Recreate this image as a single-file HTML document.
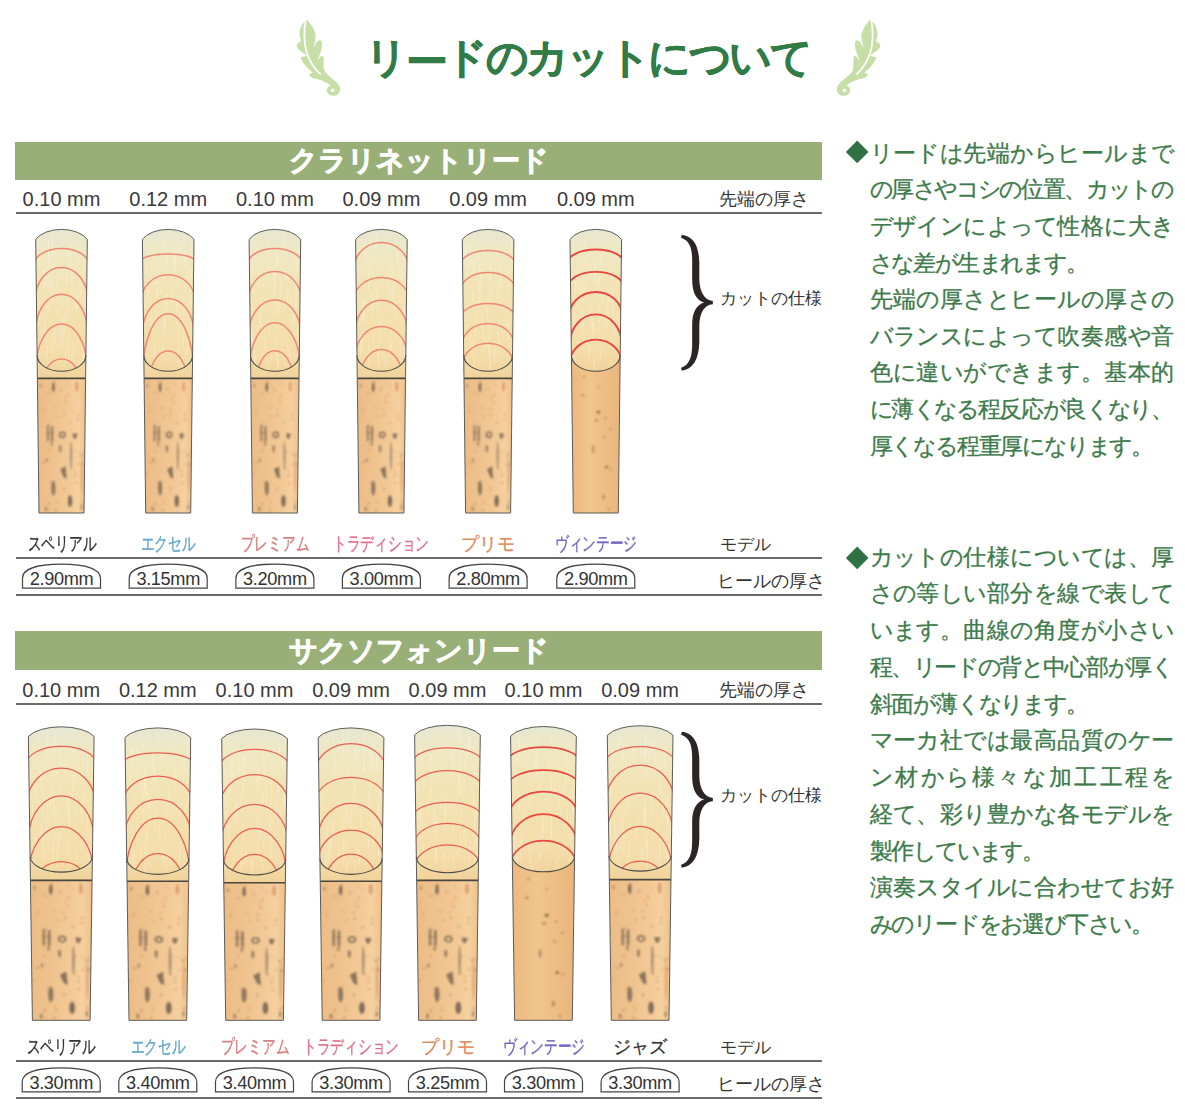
<!DOCTYPE html>
<html><head><meta charset="utf-8"><style>
html,body{margin:0;padding:0;background:#fff;width:1185px;height:1110px;overflow:hidden;position:relative;font-family:'Liberation Sans',sans-serif;}
.a{position:absolute;white-space:nowrap;}
</style></head><body>

<svg class="a" style="left:290px;top:15px" width="55" height="86" viewBox="0 0 763 1193"><g transform=""><path d="M240,68 C290,130 355,210 355,300 C355,360 325,420 330,462 C350,400 380,350 420,350 C455,360 450,440 430,500 C415,545 390,600 378,640 C400,600 430,560 455,565 C475,600 462,690 470,750 C490,830 620,900 670,960 C705,1000 705,1065 665,1100 C625,1135 545,1125 518,1080 C495,1035 525,985 565,982 C520,935 420,895 330,878 C290,870 255,840 275,815 C290,800 310,800 320,800 C260,760 200,700 160,620 C150,595 150,580 160,578 C200,590 225,560 235,560 C180,520 110,490 95,440 C90,400 110,380 140,378 C150,375 145,345 150,345 C120,280 130,200 170,130 C195,90 220,70 240,68 Z" fill="#c6dfa7"/><path d="M215,88 C190,200 195,380 225,500 C260,620 330,740 420,820" fill="none" stroke="#fff" stroke-width="24" stroke-linecap="round"/><circle cx="592" cy="1045" r="26" fill="#fff"/></g></svg>
<svg class="a" style="left:832px;top:15px" width="55" height="86" viewBox="0 0 763 1193"><g transform="translate(763,0) scale(-1,1)"><path d="M240,68 C290,130 355,210 355,300 C355,360 325,420 330,462 C350,400 380,350 420,350 C455,360 450,440 430,500 C415,545 390,600 378,640 C400,600 430,560 455,565 C475,600 462,690 470,750 C490,830 620,900 670,960 C705,1000 705,1065 665,1100 C625,1135 545,1125 518,1080 C495,1035 525,985 565,982 C520,935 420,895 330,878 C290,870 255,840 275,815 C290,800 310,800 320,800 C260,760 200,700 160,620 C150,595 150,580 160,578 C200,590 225,560 235,560 C180,520 110,490 95,440 C90,400 110,380 140,378 C150,375 145,345 150,345 C120,280 130,200 170,130 C195,90 220,70 240,68 Z" fill="#c6dfa7"/><path d="M215,88 C190,200 195,380 225,500 C260,620 330,740 420,820" fill="none" stroke="#fff" stroke-width="24" stroke-linecap="round"/><circle cx="592" cy="1045" r="26" fill="#fff"/></g></svg>
<div class="a" id="title" style="left:365px;top:37px;font-size:42px;line-height:42px;font-weight:bold;color:#317b47;letter-spacing:-2.4px;-webkit-text-stroke:0.5px #317b47">リ<span style="position:relative;top:3.5px">ー</span>ドのカットについて</div>
<div class="a" style="left:15px;top:141.5px;width:807px;height:38.7px;background:#98b078"></div>
<div class="a" style="left:15px;top:146.0px;width:807px;text-align:center;font-size:28px;line-height:30px;font-weight:bold;color:#fff;-webkit-text-stroke:0.9px #fff">クラリネットリード</div>
<div class="a" style="left:15px;top:631px;width:807px;height:38.7px;background:#98b078"></div>
<div class="a" style="left:15px;top:635.5px;width:807px;text-align:center;font-size:28px;line-height:30px;font-weight:bold;color:#fff;-webkit-text-stroke:0.9px #fff">サクソフォンリード</div>
<svg class="a" style="left:0;top:0" width="1185" height="1110" viewBox="0 0 1185 1110">
<defs>
<linearGradient id="vg" x1="0" y1="0" x2="0" y2="1">
 <stop offset="0" stop-color="#e6e6d2"/><stop offset="0.14" stop-color="#efe8c4"/>
 <stop offset="0.4" stop-color="#f3e3b4"/><stop offset="0.85" stop-color="#f4ddaa"/><stop offset="1" stop-color="#f1d29a"/>
</linearGradient>
<linearGradient id="hg" x1="0" y1="0" x2="1" y2="0">
 <stop offset="0" stop-color="#ecbc86"/><stop offset="0.6" stop-color="#f2c894"/><stop offset="0.85" stop-color="#f5d09e"/><stop offset="1" stop-color="#eec089"/>
</linearGradient>
<linearGradient id="hgv" x1="0" y1="0" x2="1" y2="0">
 <stop offset="0" stop-color="#ebb97f"/><stop offset="0.4" stop-color="#f1c58e"/><stop offset="1" stop-color="#e9b67c"/>
</linearGradient>
<filter id="bl" x="-20%" y="-20%" width="140%" height="140%"><feGaussianBlur stdDeviation="1.0"/></filter>
<g id="spots">
 <g fill="#6a5a4c">
 <ellipse cx="15.9" cy="9" rx="1.3" ry="4.5" opacity="0.83"/>
 <ellipse cx="3.3" cy="7.3" rx="1" ry="1.6" opacity="0.50"/>
 <rect x="9.5" y="47" width="2" height="16" opacity="0.66"/><rect x="13.6" y="48" width="2" height="15" opacity="0.72"/>
 <rect x="9" y="54" width="7" height="1.2" opacity="0.38"/>
 <circle cx="24.8" cy="56.6" r="2.6" fill="none" stroke="#6a5a4c" stroke-width="1.6" opacity="0.77"/>
 <path d="M35,55 L40,55.5 L38,61 L36,60 Z" opacity="0.77"/>
 <ellipse cx="33" cy="44.6" rx=".8" ry="1" opacity="0.44"/>
 <ellipse cx="14.2" cy="65.6" rx="1" ry="2.5" opacity="0.61"/>
 <ellipse cx="22.7" cy="70.4" rx="1.2" ry="3.5" opacity="0.66"/>
 <ellipse cx="33.5" cy="77" rx="1" ry="14" opacity="0.55"/>
 <ellipse cx="9.2" cy="82" rx="1" ry="2" opacity="0.55"/>
 <path d="M23,91 L28,88 L29,101 L26,99 Z" opacity="0.77"/>
 <ellipse cx="15.9" cy="110" rx="2" ry="7.5" opacity="0.72"/>
 <ellipse cx="32.5" cy="123" rx="2.2" ry="6" opacity="0.83"/>
 <ellipse cx="8.5" cy="131" rx="1" ry="2.5" opacity="0.66"/>
 <ellipse cx="44" cy="129" rx="1" ry="3" opacity="0.55"/>
 </g>
 <g><ellipse cx="30.1" cy="5.3" rx="0.59" ry="0.95" fill="#c06848" opacity="0.43"/><ellipse cx="31.8" cy="118.9" rx="0.46" ry="0.74" fill="#c06848" opacity="0.22"/><ellipse cx="11.6" cy="68.2" rx="0.42" ry="0.67" fill="#c06848" opacity="0.41"/><ellipse cx="26.0" cy="30.9" rx="0.81" ry="1.30" fill="#7a5a45" opacity="0.21"/><ellipse cx="37.5" cy="93.5" rx="0.64" ry="1.02" fill="#c06848" opacity="0.50"/><ellipse cx="16.8" cy="14.1" rx="0.47" ry="0.75" fill="#7a5a45" opacity="0.39"/><ellipse cx="37.5" cy="97.6" rx="0.78" ry="1.24" fill="#7a5a45" opacity="0.32"/><ellipse cx="26.3" cy="110.7" rx="0.83" ry="1.33" fill="#7a5a45" opacity="0.38"/><ellipse cx="33.0" cy="8.0" rx="0.56" ry="0.90" fill="#c06848" opacity="0.24"/><ellipse cx="12.2" cy="15.2" rx="0.59" ry="0.95" fill="#7a5a45" opacity="0.32"/><ellipse cx="18.3" cy="29.4" rx="0.59" ry="0.94" fill="#7a5a45" opacity="0.41"/><ellipse cx="28.8" cy="24.4" rx="0.91" ry="1.46" fill="#c06848" opacity="0.32"/><ellipse cx="45.5" cy="85.8" rx="0.79" ry="1.26" fill="#7a5a45" opacity="0.46"/><ellipse cx="36.1" cy="32.0" rx="0.42" ry="0.68" fill="#c06848" opacity="0.29"/><ellipse cx="11.3" cy="125.5" rx="1.01" ry="1.62" fill="#c06848" opacity="0.41"/><ellipse cx="19.4" cy="121.8" rx="0.72" ry="1.15" fill="#c06848" opacity="0.29"/><ellipse cx="26.7" cy="36.4" rx="0.81" ry="1.29" fill="#7a5a45" opacity="0.33"/><ellipse cx="11.7" cy="132.7" rx="0.76" ry="1.21" fill="#c06848" opacity="0.23"/><ellipse cx="6.8" cy="84.2" rx="0.95" ry="1.53" fill="#c06848" opacity="0.23"/><ellipse cx="18.8" cy="132.5" rx="0.77" ry="1.23" fill="#7a5a45" opacity="0.47"/><ellipse cx="2.5" cy="96.4" rx="0.88" ry="1.40" fill="#c06848" opacity="0.29"/><ellipse cx="30.2" cy="16.6" rx="0.70" ry="1.13" fill="#c06848" opacity="0.49"/><ellipse cx="40.5" cy="36.5" rx="0.75" ry="1.20" fill="#c06848" opacity="0.48"/><ellipse cx="40.3" cy="41.1" rx="0.85" ry="1.36" fill="#7a5a45" opacity="0.26"/><ellipse cx="35.6" cy="72.7" rx="0.95" ry="1.51" fill="#c06848" opacity="0.21"/><ellipse cx="16.3" cy="4.6" rx="1.05" ry="1.68" fill="#7a5a45" opacity="0.46"/><ellipse cx="15.5" cy="9.6" rx="1.01" ry="1.62" fill="#7a5a45" opacity="0.24"/><ellipse cx="23.4" cy="11.1" rx="0.93" ry="1.49" fill="#7a5a45" opacity="0.25"/><ellipse cx="22.9" cy="74.0" rx="0.59" ry="0.94" fill="#7a5a45" opacity="0.34"/><ellipse cx="11.3" cy="72.6" rx="0.91" ry="1.46" fill="#c06848" opacity="0.31"/><ellipse cx="45.8" cy="87.1" rx="0.71" ry="1.13" fill="#c06848" opacity="0.25"/><ellipse cx="11.9" cy="46.3" rx="0.81" ry="1.30" fill="#c06848" opacity="0.28"/><ellipse cx="5.1" cy="84.7" rx="0.56" ry="0.90" fill="#7a5a45" opacity="0.47"/><ellipse cx="5.1" cy="33.2" rx="0.87" ry="1.39" fill="#c06848" opacity="0.26"/><ellipse cx="43.2" cy="76.8" rx="0.73" ry="1.17" fill="#7a5a45" opacity="0.45"/><ellipse cx="10.4" cy="14.7" rx="0.70" ry="1.12" fill="#c06848" opacity="0.35"/><ellipse cx="34.1" cy="90.2" rx="1.09" ry="1.74" fill="#c06848" opacity="0.33"/><ellipse cx="16.9" cy="114.9" rx="0.57" ry="0.92" fill="#c06848" opacity="0.35"/><ellipse cx="20.6" cy="38.5" rx="0.57" ry="0.92" fill="#7a5a45" opacity="0.35"/><ellipse cx="39.9" cy="74.1" rx="0.44" ry="0.70" fill="#7a5a45" opacity="0.46"/><ellipse cx="44.6" cy="123.4" rx="0.99" ry="1.59" fill="#c06848" opacity="0.36"/><ellipse cx="11.4" cy="54.5" rx="0.44" ry="0.71" fill="#c06848" opacity="0.50"/><ellipse cx="13.7" cy="104.7" rx="0.72" ry="1.15" fill="#c06848" opacity="0.50"/><ellipse cx="45.8" cy="74.8" rx="0.90" ry="1.44" fill="#c06848" opacity="0.30"/><ellipse cx="44.6" cy="77.9" rx="0.78" ry="1.25" fill="#7a5a45" opacity="0.23"/></g>
 <g fill="#c8704a">
 <ellipse cx="39.3" cy="8" rx="1.5" ry="5" opacity="0.50"/>
 <ellipse cx="44.3" cy="97" rx="1" ry="18" opacity="0.38"/>
 <circle cx="41" cy="86" r="1" opacity="0.44"/><circle cx="38" cy="105" r="1" opacity="0.44"/>
 <circle cx="28" cy="20" r=".8" opacity="0.44"/><circle cx="6" cy="30" r=".8" opacity="0.33"/>
 <circle cx="20" cy="125" r="1" opacity="0.38"/>
 </g>
</g>
<g id="vspots" fill="#7a5030">
 <circle cx="12" cy="6" r="1" opacity=".55"/><circle cx="26" cy="16" r="1" opacity=".45"/>
 <circle cx="11" cy="24" r="1.2" opacity=".5"/><circle cx="26" cy="41" r="1.6" opacity=".75"/>
 <circle cx="24" cy="49" r="1.2" opacity=".6"/><circle cx="33" cy="47" r="1" opacity=".5"/>
 <ellipse cx="21" cy="78" rx="1" ry="4" opacity=".5"/><circle cx="32" cy="66" r="1" opacity=".55"/>
 <circle cx="34" cy="96" r="1.5" opacity=".65"/><circle cx="38" cy="98" r="1" opacity=".5"/>
 <ellipse cx="31" cy="126" rx="1" ry="3" opacity=".5"/><circle cx="38" cy="58" r="1" opacity=".5"/>
 <circle cx="36" cy="138" r="1" opacity=".5"/>
</g>
</defs>
<clipPath id="c0"><path d="M35.7,239.4 A28.3,17.0 0 0 1 87.3,239.4 L85.9,355.3 A24.4,16.0 0 0 1 37.1,355.3 Z"/></clipPath>
<path d="M37.4,378.4 L85.6,378.4 L84.0,513.0 L39.0,513.0 Z" fill="url(#hg)"/>
<use href="#spots" filter="url(#bl)" transform="translate(37.4,378.4) scale(1.005,0.997)"/>
<path d="M35.7,239.4 A28.3,17.0 0 0 1 87.3,239.4 L85.6,378.4 L37.4,378.4 Z" fill="url(#vg)"/>
<path d="M49.0,303.2 L49.0,314.8 M66.4,313.9 L66.4,320.1 M38.3,341.9 L38.3,351.5 M48.9,362.7 L48.9,376.2 M77.5,294.2 L77.5,310.7 M44.9,315.1 L44.9,335.8 M62.6,329.2 L62.6,346.3 M40.7,331.4 L40.7,347.1 M52.0,235.5 L52.0,256.1 M60.2,326.2 L60.2,347.0 M71.7,352.9 L71.7,365.0 M75.8,290.0 L75.8,311.9 M79.5,244.3 L79.5,251.7 M48.0,358.7 L48.0,371.6 M67.5,271.1 L67.5,285.2 M56.1,277.7 L56.1,293.2 M65.5,350.7 L65.5,367.9 M81.9,344.4 L81.9,367.2 M69.7,252.9 L69.7,273.4 M83.6,350.7 L83.6,366.0 M71.7,259.2 L71.7,279.2 M65.0,269.0 L65.0,275.1 M78.3,362.0 L78.3,368.5 M75.8,285.5 L75.8,293.3 M51.7,332.8 L51.7,353.5 M39.8,312.5 L39.8,318.3 M71.9,275.1 L71.9,295.9 M84.4,298.1 L84.4,321.0 M52.4,241.6 L52.4,257.3 M39.2,257.4 L39.2,269.8 M66.8,252.0 L66.8,257.8 M79.0,272.8 L79.0,295.1 M80.4,281.2 L80.4,294.5 M62.5,316.3 L62.5,332.1 M64.3,313.2 L64.3,335.1 M61.8,288.3 L61.8,306.2 M49.0,271.1 L49.0,293.7 M62.5,303.7 L62.5,308.9 M57.5,307.9 L57.5,313.3 M67.0,314.8 L67.0,320.9 M67.6,292.9 L67.6,310.1 M54.5,324.6 L54.5,342.9 M38.8,239.4 L38.8,256.6 M83.6,264.5 L83.6,277.7 M65.9,273.6 L65.9,285.2 M52.6,280.1 L52.6,295.8 M52.0,281.1 L52.0,300.0 M39.0,306.5 L39.0,324.7 M52.5,260.8 L52.5,280.2 M49.1,256.1 L49.1,269.0 M70.9,244.8 L70.9,255.6 M53.6,341.3 L53.6,354.2 M78.4,253.7 L78.4,264.8 M68.7,348.1 L68.7,361.2 M48.4,247.3 L48.4,261.9 M46.8,337.8 L46.8,357.9 M46.4,268.1 L46.4,287.7 M68.3,337.7 L68.3,349.0 M43.9,269.9 L43.9,289.2 M50.6,277.1 L50.6,289.6 M57.7,285.4 L57.7,307.0 M45.1,232.0 L45.1,254.0 M79.6,361.6 L79.6,374.4 M82.9,353.7 L82.9,362.7 M73.2,341.8 L73.2,358.7 M62.4,269.5 L62.4,280.7 M48.5,240.4 L48.5,256.0" stroke="#fffcf0" stroke-width="0.6" opacity=".45" clip-path="url(#c0)"/>
<path d="M34.0,265.2 A27.5,16.8 0 0 1 89.0,265.2 M35.2,300.0 A26.3,32.4 0 0 1 87.8,300.0 M35.7,331.1 A25.8,36.9 0 0 1 87.3,331.1 M36.1,367.4 A25.4,43.4 0 0 1 86.9,367.4 M43.7,380.3 A17.8,21.3 0 0 1 79.3,380.3" fill="none" stroke="#ee8874" stroke-width="1.5" clip-path="url(#c0)"/>
<path d="M37.1,355.3 A24.4,16.0 0 0 0 85.9,355.3" fill="none" stroke="#4a4a46" stroke-width="1.1"/>
<path d="M37.4,378.4 L85.6,378.4" stroke="#4a4640" stroke-width="1.6"/>
<path d="M35.7,239.4 A28.3,17.0 0 0 1 87.3,239.4 L84.0,513.0 L39.0,513.0 Z" fill="none" stroke="#5e5b58" stroke-width="1"/>
<clipPath id="c1"><path d="M142.4,239.4 A28.3,17.0 0 0 1 194.0,239.4 L192.6,355.3 A24.4,16.0 0 0 1 143.8,355.3 Z"/></clipPath>
<path d="M144.1,378.4 L192.3,378.4 L190.7,513.0 L145.7,513.0 Z" fill="url(#hg)"/>
<use href="#spots" filter="url(#bl)" transform="translate(144.1,378.4) scale(1.005,0.997)"/>
<path d="M142.4,239.4 A28.3,17.0 0 0 1 194.0,239.4 L192.3,378.4 L144.1,378.4 Z" fill="url(#vg)"/>
<path d="M171.6,288.0 L171.6,303.4 M154.2,338.7 L154.2,358.5 M175.5,252.5 L175.5,266.9 M160.0,264.4 L160.0,286.5 M191.8,237.3 L191.8,257.8 M173.1,281.7 L173.1,291.8 M176.5,291.7 L176.5,309.0 M175.9,248.9 L175.9,267.8 M191.2,359.3 L191.2,375.3 M146.5,231.9 L146.5,239.3 M189.2,271.3 L189.2,282.9 M187.2,272.9 L187.2,287.7 M165.2,240.0 L165.2,255.5 M184.6,252.0 L184.6,261.1 M164.1,236.3 L164.1,250.2 M183.3,318.2 L183.3,332.8 M185.1,251.1 L185.1,266.4 M162.2,310.7 L162.2,317.7 M181.3,244.1 L181.3,252.1 M182.8,356.4 L182.8,369.2 M164.1,263.8 L164.1,273.7 M173.8,254.9 L173.8,262.1 M166.1,253.2 L166.1,269.8 M183.5,334.0 L183.5,347.6 M160.9,288.7 L160.9,293.8 M178.3,275.1 L178.3,285.9 M148.2,290.5 L148.2,306.0 M163.0,346.1 L163.0,363.2 M155.9,300.7 L155.9,322.1 M169.2,310.8 L169.2,316.9 M167.7,292.3 L167.7,304.5 M164.4,308.6 L164.4,323.2 M167.7,253.3 L167.7,266.2 M190.5,286.2 L190.5,291.8 M144.5,302.0 L144.5,307.9 M148.8,245.7 L148.8,258.9 M191.7,295.4 L191.7,308.6 M165.2,297.5 L165.2,310.5 M179.0,349.8 L179.0,367.4 M164.5,317.1 L164.5,338.4 M151.7,262.7 L151.7,278.8 M177.1,316.2 L177.1,331.8 M183.9,294.6 L183.9,314.1 M190.2,288.8 L190.2,309.3 M178.6,348.6 L178.6,354.4 M187.9,332.5 L187.9,354.9 M191.1,269.1 L191.1,286.1 M151.1,309.9 L151.1,331.5 M153.5,277.5 L153.5,284.0 M153.7,258.8 L153.7,265.5 M192.0,348.5 L192.0,361.8 M179.8,323.1 L179.8,337.5 M164.6,319.0 L164.6,334.0 M157.1,279.5 L157.1,295.7 M174.3,259.0 L174.3,275.0 M186.0,346.3 L186.0,363.1 M147.7,287.3 L147.7,293.9 M147.0,265.0 L147.0,278.2 M180.5,314.3 L180.5,324.4 M177.5,298.2 L177.5,312.3 M156.9,289.7 L156.9,300.8 M179.0,295.1 L179.0,308.1 M167.1,294.7 L167.1,312.1 M178.7,337.1 L178.7,349.4 M182.2,358.6 L182.2,381.5 M178.7,240.0 L178.7,260.3 M184.2,233.6 L184.2,244.5" stroke="#fffcf0" stroke-width="0.6" opacity=".45" clip-path="url(#c1)"/>
<path d="M140.4,262.2 A27.8,8.3 0 0 1 196.0,262.2 M141.5,300.4 A26.7,25.6 0 0 1 194.9,300.4 M142.4,333.2 A25.8,34.7 0 0 1 194.0,333.2 M142.8,373.3 A25.4,59.6 0 0 1 193.6,373.3 M149.5,379.9 A18.7,28.8 0 0 1 186.9,379.9" fill="none" stroke="#ee8874" stroke-width="1.5" clip-path="url(#c1)"/>
<path d="M143.8,355.3 A24.4,16.0 0 0 0 192.6,355.3" fill="none" stroke="#4a4a46" stroke-width="1.1"/>
<path d="M144.1,378.4 L192.3,378.4" stroke="#4a4640" stroke-width="1.6"/>
<path d="M142.4,239.4 A28.3,17.0 0 0 1 194.0,239.4 L190.7,513.0 L145.7,513.0 Z" fill="none" stroke="#5e5b58" stroke-width="1"/>
<clipPath id="c2"><path d="M249.1,239.4 A28.3,17.0 0 0 1 300.7,239.4 L299.3,355.3 A24.4,16.0 0 0 1 250.5,355.3 Z"/></clipPath>
<path d="M250.8,378.4 L299.0,378.4 L297.4,513.0 L252.4,513.0 Z" fill="url(#hg)"/>
<use href="#spots" filter="url(#bl)" transform="translate(250.8,378.4) scale(1.005,0.997)"/>
<path d="M249.1,239.4 A28.3,17.0 0 0 1 300.7,239.4 L299.0,378.4 L250.8,378.4 Z" fill="url(#vg)"/>
<path d="M275.9,337.8 L275.9,360.1 M264.9,332.4 L264.9,350.1 M282.6,245.9 L282.6,251.4 M269.4,329.8 L269.4,339.4 M275.0,273.3 L275.0,293.5 M296.1,284.4 L296.1,307.3 M254.1,338.6 L254.1,359.3 M258.3,324.5 L258.3,339.5 M296.6,259.1 L296.6,273.8 M293.1,315.7 L293.1,326.2 M255.0,355.4 L255.0,368.9 M298.5,250.1 L298.5,269.7 M289.8,352.7 L289.8,358.1 M268.8,238.2 L268.8,256.8 M268.0,358.0 L268.0,369.7 M288.0,345.9 L288.0,355.2 M277.6,357.7 L277.6,372.2 M268.2,266.6 L268.2,285.8 M260.3,311.1 L260.3,326.1 M277.4,248.5 L277.4,265.3 M294.7,273.5 L294.7,284.4 M294.4,307.7 L294.4,317.6 M251.6,330.8 L251.6,342.0 M273.3,267.3 L273.3,283.7 M285.8,272.3 L285.8,278.6 M298.1,351.4 L298.1,356.8 M278.0,321.9 L278.0,334.1 M285.9,358.0 L285.9,373.6 M269.7,257.2 L269.7,266.7 M258.3,246.0 L258.3,254.8 M291.2,302.2 L291.2,321.7 M294.9,338.3 L294.9,344.2 M295.2,243.6 L295.2,262.5 M291.0,318.1 L291.0,330.4 M254.7,242.6 L254.7,259.1 M262.6,301.6 L262.6,311.4 M258.9,270.3 L258.9,288.4 M274.3,283.2 L274.3,297.0 M277.5,299.4 L277.5,312.4 M297.1,330.6 L297.1,339.7 M266.2,256.3 L266.2,267.9 M252.5,329.6 L252.5,344.8 M271.2,349.2 L271.2,360.2 M278.6,354.0 L278.6,369.0 M280.3,279.9 L280.3,302.9 M287.0,271.4 L287.0,282.8 M279.3,299.8 L279.3,314.2 M260.2,307.3 L260.2,325.0 M287.5,290.7 L287.5,303.7 M275.1,302.1 L275.1,315.7 M251.7,266.1 L251.7,288.9 M290.4,293.0 L290.4,311.6 M261.2,266.6 L261.2,281.0 M284.4,235.0 L284.4,248.5 M294.2,312.2 L294.2,335.0 M255.8,351.2 L255.8,371.3 M252.3,302.2 L252.3,320.8 M261.7,317.0 L261.7,337.4 M288.9,287.9 L288.9,293.9 M276.8,256.2 L276.8,270.9 M263.9,277.2 L263.9,292.0 M290.1,360.0 L290.1,372.3 M251.5,330.3 L251.5,341.5 M287.2,341.0 L287.2,346.6 M285.9,269.0 L285.9,279.8 M267.0,302.4 L267.0,311.8 M274.6,268.8 L274.6,276.0" stroke="#fffcf0" stroke-width="0.6" opacity=".45" clip-path="url(#c2)"/>
<path d="M247.4,265.0 A27.5,16.6 0 0 1 302.4,265.0 M248.4,300.3 A26.5,28.7 0 0 1 301.4,300.3 M249.1,333.1 A25.8,33.1 0 0 1 300.7,333.1 M249.5,368.9 A25.4,46.3 0 0 1 300.3,368.9 M256.7,380.0 A18.2,29.2 0 0 1 293.1,380.0" fill="none" stroke="#ee8874" stroke-width="1.5" clip-path="url(#c2)"/>
<path d="M250.5,355.3 A24.4,16.0 0 0 0 299.3,355.3" fill="none" stroke="#4a4a46" stroke-width="1.1"/>
<path d="M250.8,378.4 L299.0,378.4" stroke="#4a4640" stroke-width="1.6"/>
<path d="M249.1,239.4 A28.3,17.0 0 0 1 300.7,239.4 L297.4,513.0 L252.4,513.0 Z" fill="none" stroke="#5e5b58" stroke-width="1"/>
<clipPath id="c3"><path d="M355.6,239.4 A28.3,17.0 0 0 1 407.2,239.4 L405.8,355.3 A24.4,16.0 0 0 1 357.0,355.3 Z"/></clipPath>
<path d="M357.3,378.4 L405.5,378.4 L403.9,513.0 L358.9,513.0 Z" fill="url(#hg)"/>
<use href="#spots" filter="url(#bl)" transform="translate(357.3,378.4) scale(1.005,0.997)"/>
<path d="M355.6,239.4 A28.3,17.0 0 0 1 407.2,239.4 L405.5,378.4 L357.3,378.4 Z" fill="url(#vg)"/>
<path d="M391.5,342.2 L391.5,350.5 M405.1,257.0 L405.1,274.1 M362.0,331.3 L362.0,339.1 M391.2,327.0 L391.2,345.7 M378.6,345.6 L378.6,368.4 M363.1,299.6 L363.1,321.8 M392.8,290.0 L392.8,300.5 M403.0,242.6 L403.0,261.3 M397.7,252.2 L397.7,263.1 M372.1,302.9 L372.1,314.5 M400.1,353.4 L400.1,364.1 M400.2,240.6 L400.2,247.3 M389.3,336.8 L389.3,356.5 M404.8,344.8 L404.8,354.6 M393.0,353.4 L393.0,360.0 M381.1,251.7 L381.1,259.3 M380.4,319.8 L380.4,342.4 M363.9,298.1 L363.9,321.0 M394.0,301.6 L394.0,311.0 M387.6,265.8 L387.6,282.4 M388.5,283.0 L388.5,302.3 M376.8,293.2 L376.8,313.2 M369.5,255.9 L369.5,271.2 M378.3,346.7 L378.3,356.2 M375.3,239.0 L375.3,252.1 M372.5,290.6 L372.5,309.3 M359.4,361.9 L359.4,379.7 M396.2,302.5 L396.2,317.8 M377.1,283.7 L377.1,292.6 M372.0,270.2 L372.0,281.2 M400.8,336.7 L400.8,353.3 M358.4,266.0 L358.4,280.8 M390.5,286.7 L390.5,303.1 M400.7,266.7 L400.7,278.6 M393.8,273.4 L393.8,291.4 M376.5,234.0 L376.5,247.3 M360.8,334.9 L360.8,355.1 M382.8,350.0 L382.8,358.9 M378.8,254.6 L378.8,260.4 M396.8,238.3 L396.8,260.1 M384.1,323.8 L384.1,329.7 M400.8,336.1 L400.8,343.0 M366.3,250.0 L366.3,264.0 M361.3,336.7 L361.3,350.7 M391.1,265.0 L391.1,281.8 M379.2,316.9 L379.2,329.3 M404.7,343.0 L404.7,363.0 M373.8,256.6 L373.8,264.4 M363.9,359.0 L363.9,369.1 M399.0,262.0 L399.0,278.2 M369.5,271.9 L369.5,290.4 M386.6,356.2 L386.6,365.4 M370.5,239.7 L370.5,248.5 M404.3,305.8 L404.3,319.3 M373.8,331.6 L373.8,349.0 M365.0,237.5 L365.0,245.6 M396.5,328.1 L396.5,337.1 M368.7,271.9 L368.7,289.2 M393.2,262.8 L393.2,273.8 M368.9,356.1 L368.9,371.1 M402.3,263.3 L402.3,279.7 M384.7,354.3 L384.7,365.9 M368.5,339.3 L368.5,361.4 M381.8,275.3 L381.8,281.8 M378.7,353.4 L378.7,364.9 M379.0,305.8 L379.0,315.1 M362.8,299.9 L362.8,322.3" stroke="#fffcf0" stroke-width="0.6" opacity=".45" clip-path="url(#c3)"/>
<path d="M354.3,268.0 A27.1,25.4 0 0 1 408.5,268.0 M354.5,298.7 A26.9,21.1 0 0 1 408.3,298.7 M355.4,331.5 A26.0,31.2 0 0 1 407.4,331.5 M355.7,355.7 A25.7,29.1 0 0 1 407.1,355.7 M359.6,380.6 A21.8,31.2 0 0 1 403.2,380.6" fill="none" stroke="#ee8874" stroke-width="1.5" clip-path="url(#c3)"/>
<path d="M357.0,355.3 A24.4,16.0 0 0 0 405.8,355.3" fill="none" stroke="#4a4a46" stroke-width="1.1"/>
<path d="M357.3,378.4 L405.5,378.4" stroke="#4a4640" stroke-width="1.6"/>
<path d="M355.6,239.4 A28.3,17.0 0 0 1 407.2,239.4 L403.9,513.0 L358.9,513.0 Z" fill="none" stroke="#5e5b58" stroke-width="1"/>
<clipPath id="c4"><path d="M462.3,239.4 A28.3,17.0 0 0 1 513.9,239.4 L512.5,355.3 A24.4,16.0 0 0 1 463.7,355.3 Z"/></clipPath>
<path d="M464.0,378.4 L512.2,378.4 L510.6,513.0 L465.6,513.0 Z" fill="url(#hg)"/>
<use href="#spots" filter="url(#bl)" transform="translate(464.0,378.4) scale(1.005,0.997)"/>
<path d="M462.3,239.4 A28.3,17.0 0 0 1 513.9,239.4 L512.2,378.4 L464.0,378.4 Z" fill="url(#vg)"/>
<path d="M464.9,246.2 L464.9,258.3 M496.9,249.7 L496.9,256.7 M475.3,331.3 L475.3,339.0 M499.6,318.7 L499.6,326.2 M489.8,290.5 L489.8,302.9 M511.7,243.7 L511.7,249.0 M509.0,284.5 L509.0,293.1 M480.0,279.5 L480.0,301.7 M474.3,260.0 L474.3,275.5 M490.4,357.2 L490.4,377.3 M481.2,258.3 L481.2,278.3 M511.4,235.4 L511.4,253.6 M505.6,317.3 L505.6,326.2 M502.2,327.7 L502.2,336.2 M494.8,260.3 L494.8,266.1 M480.3,275.5 L480.3,287.6 M495.1,341.7 L495.1,364.0 M510.8,362.4 L510.8,381.7 M478.9,254.7 L478.9,270.9 M490.3,320.4 L490.3,327.1 M473.5,352.9 L473.5,368.7 M497.4,244.0 L497.4,256.2 M507.6,317.0 L507.6,339.9 M473.7,291.4 L473.7,310.8 M485.5,335.5 L485.5,350.6 M469.9,244.4 L469.9,267.1 M470.0,257.0 L470.0,268.0 M498.3,344.1 L498.3,357.6 M488.0,335.4 L488.0,345.4 M482.0,312.2 L482.0,328.7 M466.1,246.2 L466.1,253.7 M498.8,322.8 L498.8,345.3 M500.8,265.0 L500.8,283.8 M511.2,277.4 L511.2,282.6 M482.2,268.7 L482.2,276.8 M466.4,247.9 L466.4,268.4 M466.7,312.4 L466.7,321.1 M473.5,339.7 L473.5,350.0 M473.1,291.4 L473.1,308.9 M489.3,344.8 L489.3,357.0 M489.2,326.0 L489.2,339.3 M498.4,293.0 L498.4,300.4 M470.2,334.7 L470.2,353.1 M509.2,322.4 L509.2,337.9 M472.2,343.9 L472.2,351.1 M484.5,249.9 L484.5,261.8 M478.9,287.5 L478.9,305.3 M490.1,263.4 L490.1,282.4 M499.3,340.5 L499.3,346.1 M493.6,349.5 L493.6,359.2 M473.9,338.7 L473.9,350.3 M483.4,339.2 L483.4,351.2 M473.7,259.7 L473.7,270.9 M497.5,280.0 L497.5,298.9 M467.4,264.2 L467.4,280.5 M487.1,297.3 L487.1,319.2 M477.5,255.3 L477.5,261.0 M487.3,270.6 L487.3,284.1 M464.6,231.4 L464.6,243.3 M500.4,271.0 L500.4,292.5 M491.9,284.6 L491.9,303.6 M475.4,311.2 L475.4,331.5 M490.0,273.6 L490.0,280.3 M491.6,256.1 L491.6,267.9 M490.1,355.5 L490.1,372.7 M489.0,344.6 L489.0,355.2 M482.8,320.7 L482.8,335.7" stroke="#fffcf0" stroke-width="0.6" opacity=".45" clip-path="url(#c4)"/>
<path d="M460.5,265.1 A27.6,14.6 0 0 1 515.7,265.1 M461.0,289.6 A27.1,17.0 0 0 1 515.2,289.6 M461.2,317.4 A26.9,13.8 0 0 1 515.0,317.4 M461.9,345.8 A26.2,22.3 0 0 1 514.3,345.8 M462.2,366.0 A25.9,22.8 0 0 1 514.0,366.0" fill="none" stroke="#ee8874" stroke-width="1.5" clip-path="url(#c4)"/>
<path d="M463.7,355.3 A24.4,16.0 0 0 0 512.5,355.3" fill="none" stroke="#4a4a46" stroke-width="1.1"/>
<path d="M464.0,378.4 L512.2,378.4" stroke="#4a4640" stroke-width="1.6"/>
<path d="M462.3,239.4 A28.3,17.0 0 0 1 513.9,239.4 L510.6,513.0 L465.6,513.0 Z" fill="none" stroke="#5e5b58" stroke-width="1"/>
<clipPath id="c5"><path d="M570.0,239.4 A28.3,17.0 0 0 1 621.6,239.4 L620.2,355.3 A24.4,16.0 0 0 1 571.4,355.3 Z"/></clipPath>
<path d="M571.4,355.3 L620.2,355.3 L618.3,513.0 L573.3,513.0 Z" fill="url(#hgv)"/>
<use href="#vspots" filter="url(#bl)" transform="translate(571.6,371.3) scale(1.030,0.998)"/>
<path d="M570.0,239.4 A28.3,17.0 0 0 1 621.6,239.4 L620.2,355.3 A24.4,16.0 0 0 1 571.4,355.3 Z" fill="url(#vg)"/>
<path d="M602.4,288.0 L602.4,306.0 M575.2,323.4 L575.2,335.2 M600.9,253.8 L600.9,265.0 M584.7,274.9 L584.7,292.9 M594.5,358.4 L594.5,373.9 M582.6,312.2 L582.6,326.7 M578.7,300.9 L578.7,306.1 M589.8,302.1 L589.8,319.5 M617.7,312.5 L617.7,317.9 M594.6,264.4 L594.6,282.9 M614.5,242.8 L614.5,261.7 M586.0,255.5 L586.0,268.7 M591.9,269.3 L591.9,279.1 M592.6,322.3 L592.6,330.3 M589.7,263.0 L589.7,281.1 M583.8,329.0 L583.8,334.5 M612.7,287.8 L612.7,309.6 M609.9,342.5 L609.9,348.1 M607.6,300.7 L607.6,321.6 M599.0,277.2 L599.0,298.5 M619.3,260.5 L619.3,268.2 M593.0,318.1 L593.0,326.0 M599.9,303.0 L599.9,322.4 M578.9,249.9 L578.9,264.3 M607.8,308.8 L607.8,327.2 M584.6,235.7 L584.6,253.1 M602.8,235.0 L602.8,241.5 M605.2,319.3 L605.2,328.1 M584.4,286.6 L584.4,291.9 M586.3,263.0 L586.3,268.8 M597.0,355.6 L597.0,362.0 M605.0,312.4 L605.0,322.5 M602.6,333.4 L602.6,343.1 M591.5,314.1 L591.5,327.0 M580.8,284.6 L580.8,302.4 M599.9,274.1 L599.9,284.2 M580.0,319.3 L580.0,338.4 M583.5,313.4 L583.5,319.6 M580.4,309.6 L580.4,321.2 M592.2,238.7 L592.2,252.8 M594.5,261.6 L594.5,277.9 M582.7,278.0 L582.7,284.9 M613.2,305.0 L613.2,326.3 M588.3,333.8 L588.3,350.8 M574.2,352.9 L574.2,367.1 M587.6,280.4 L587.6,290.4 M608.3,289.0 L608.3,301.5 M593.1,322.1 L593.1,337.6 M583.2,307.8 L583.2,330.2 M589.2,344.2 L589.2,364.3 M593.8,360.0 L593.8,369.5 M582.9,285.0 L582.9,292.1 M575.6,277.6 L575.6,291.4 M600.3,347.1 L600.3,362.3 M597.2,231.7 L597.2,236.8 M596.1,266.1 L596.1,289.1 M611.3,250.2 L611.3,256.0 M611.4,359.3 L611.4,377.7 M575.2,350.0 L575.2,367.4 M614.3,317.7 L614.3,335.0 M614.6,286.2 L614.6,294.3 M580.1,280.6 L580.1,300.1 M611.9,286.8 L611.9,295.6 M577.8,270.2 L577.8,290.6 M574.7,314.3 L574.7,336.5 M597.6,325.9 L597.6,331.5 M593.8,323.7 L593.8,331.3" stroke="#fffcf0" stroke-width="0.6" opacity=".45" clip-path="url(#c5)"/>
<path d="M568.1,262.4 A27.7,12.9 0 0 1 623.5,262.4 M568.5,286.4 A27.3,14.5 0 0 1 623.1,286.4 M569.3,316.1 A26.5,24.1 0 0 1 622.3,316.1 M569.9,344.0 A25.9,29.6 0 0 1 621.7,344.0 M569.9,363.3 A25.9,23.7 0 0 1 621.7,363.3" fill="none" stroke="#e8463f" stroke-width="1.9" clip-path="url(#c5)"/>
<path d="M571.4,355.3 A24.4,16.0 0 0 0 620.2,355.3" fill="none" stroke="#4a4a46" stroke-width="1.1"/>
<path d="M570.0,239.4 A28.3,17.0 0 0 1 621.6,239.4 L618.3,513.0 L573.3,513.0 Z" fill="none" stroke="#5e5b58" stroke-width="1"/>
<clipPath id="c10"><path d="M28.4,736.4 A35.3,15.1 0 0 1 94.1,736.4 L92.4,857.0 A31.2,16.0 0 0 1 30.1,857.0 Z"/></clipPath>
<path d="M30.4,880.4 L92.1,880.4 L90.1,1020.3 L32.4,1020.3 Z" fill="url(#hg)"/>
<use href="#spots" filter="url(#bl)" transform="translate(30.4,880.4) scale(1.284,1.036)"/>
<path d="M28.4,736.4 A35.3,15.1 0 0 1 94.1,736.4 L92.1,880.4 L30.4,880.4 Z" fill="url(#vg)"/>
<path d="M47.7,797.2 L47.7,812.4 M58.8,808.8 L58.8,822.5 M62.4,756.4 L62.4,763.4 M46.1,835.0 L46.1,840.5 M52.1,786.4 L52.1,801.3 M57.1,845.3 L57.1,867.2 M65.5,756.5 L65.5,777.2 M83.2,792.1 L83.2,811.4 M85.0,858.3 L85.0,867.4 M43.8,838.2 L43.8,848.0 M47.3,735.6 L47.3,754.3 M45.0,752.0 L45.0,768.1 M35.6,835.7 L35.6,842.1 M90.4,746.9 L90.4,754.4 M58.9,833.1 L58.9,846.9 M74.1,761.8 L74.1,782.3 M42.9,784.7 L42.9,804.2 M54.6,736.9 L54.6,754.9 M35.9,784.8 L35.9,795.9 M60.6,747.5 L60.6,769.1 M80.5,803.5 L80.5,813.9 M54.2,764.1 L54.2,776.5 M60.5,830.9 L60.5,837.6 M88.0,851.0 L88.0,865.7 M64.2,741.2 L64.2,750.1 M33.2,743.8 L33.2,761.8 M42.6,823.5 L42.6,842.5 M56.0,821.4 L56.0,837.1 M68.6,809.3 L68.6,825.9 M40.0,864.3 L40.0,873.0 M38.7,761.4 L38.7,781.1 M90.7,863.5 L90.7,870.9 M54.1,831.4 L54.1,838.4 M55.8,806.0 L55.8,815.9 M48.9,793.5 L48.9,800.9 M85.5,793.0 L85.5,801.1 M61.0,778.4 L61.0,794.9 M34.5,778.9 L34.5,785.1 M67.2,795.7 L67.2,815.0 M69.4,799.5 L69.4,815.8 M50.1,800.6 L50.1,812.5 M58.4,785.1 L58.4,790.1 M42.8,807.2 L42.8,814.4 M53.3,839.1 L53.3,852.8 M78.1,773.5 L78.1,778.5 M57.7,832.1 L57.7,845.7 M52.6,845.8 L52.6,857.4 M88.0,827.6 L88.0,836.0 M69.7,817.2 L69.7,832.8 M72.6,782.5 L72.6,800.9 M67.3,835.5 L67.3,854.2 M67.6,801.2 L67.6,810.3 M36.2,795.5 L36.2,809.4 M53.4,796.5 L53.4,817.0 M83.6,850.6 L83.6,858.0 M43.5,845.7 L43.5,865.6 M43.2,834.9 L43.2,840.5 M54.5,814.5 L54.5,826.7 M83.1,758.1 L83.1,765.8 M57.4,765.7 L57.4,784.0 M72.8,744.2 L72.8,752.3 M34.2,859.3 L34.2,868.7 M41.2,768.8 L41.2,781.6 M40.2,824.9 L40.2,839.1 M51.6,860.0 L51.6,874.9 M73.8,773.0 L73.8,785.4 M87.4,751.4 L87.4,773.7 M48.1,730.6 L48.1,742.8 M82.0,811.3 L82.0,824.6 M32.4,801.2 L32.4,824.2 M81.4,843.6 L81.4,849.5 M41.0,770.7 L41.0,789.4 M65.5,771.0 L65.5,777.1 M49.2,817.0 L49.2,833.1 M87.5,810.0 L87.5,827.6 M30.5,771.8 L30.5,778.9 M48.2,834.5 L48.2,849.1 M76.2,850.5 L76.2,862.5 M55.8,731.9 L55.8,747.2 M69.7,862.0 L69.7,872.7 M46.1,864.7 L46.1,870.5 M46.3,814.2 L46.3,836.5 M45.7,786.5 L45.7,805.5 M39.1,733.9 L39.1,743.7 M76.6,797.7 L76.6,818.3" stroke="#fffcf0" stroke-width="0.6" opacity=".45" clip-path="url(#c10)"/>
<path d="M26.1,764.8 A35.1,18.4 0 0 1 96.4,764.8 M27.4,801.2 A33.9,34.9 0 0 1 95.1,801.2 M28.4,837.4 A32.9,44.0 0 0 1 94.1,837.4 M28.9,871.2 A32.4,47.2 0 0 1 93.6,871.2 M34.7,884.0 A26.6,23.8 0 0 1 87.8,884.0" fill="none" stroke="#ea5e52" stroke-width="1.25" clip-path="url(#c10)"/>
<path d="M30.1,857.0 A31.2,16.0 0 0 0 92.4,857.0" fill="none" stroke="#4a4a46" stroke-width="1.1"/>
<path d="M30.4,880.4 L92.1,880.4" stroke="#4a4640" stroke-width="1.6"/>
<path d="M28.4,736.4 A35.3,15.1 0 0 1 94.1,736.4 L90.1,1020.3 L32.4,1020.3 Z" fill="none" stroke="#5e5b58" stroke-width="1"/>
<clipPath id="c11"><path d="M125.0,737.5 A35.3,15.1 0 0 1 190.7,737.5 L189.0,858.3 A31.1,16.0 0 0 1 126.7,858.3 Z"/></clipPath>
<path d="M127.0,881.2 L188.7,881.2 L186.7,1020.3 L129.0,1020.3 Z" fill="url(#hg)"/>
<use href="#spots" filter="url(#bl)" transform="translate(127.0,881.2) scale(1.284,1.030)"/>
<path d="M125.0,737.5 A35.3,15.1 0 0 1 190.7,737.5 L188.7,881.2 L127.0,881.2 Z" fill="url(#vg)"/>
<path d="M143.8,803.9 L143.8,821.6 M186.1,780.3 L186.1,794.9 M150.1,805.0 L150.1,825.1 M188.3,856.6 L188.3,878.4 M130.4,762.9 L130.4,784.9 M161.7,749.7 L161.7,765.9 M184.7,761.5 L184.7,772.9 M137.7,863.2 L137.7,871.8 M142.9,740.8 L142.9,747.6 M128.0,730.5 L128.0,745.0 M145.4,780.1 L145.4,795.5 M146.4,831.1 L146.4,840.4 M157.7,780.4 L157.7,798.7 M154.8,767.9 L154.8,789.6 M175.2,777.2 L175.2,794.4 M158.1,735.6 L158.1,744.4 M167.5,731.6 L167.5,737.3 M143.5,795.5 L143.5,800.6 M187.4,864.8 L187.4,883.8 M179.7,854.2 L179.7,874.4 M152.9,751.5 L152.9,764.4 M166.8,844.7 L166.8,863.4 M131.5,750.6 L131.5,762.7 M143.0,776.3 L143.0,795.5 M159.9,818.3 L159.9,841.2 M155.5,809.6 L155.5,832.4 M161.9,840.2 L161.9,859.0 M153.5,767.9 L153.5,783.2 M145.0,782.7 L145.0,787.9 M186.9,859.9 L186.9,866.2 M139.7,768.1 L139.7,778.9 M145.2,777.8 L145.2,793.5 M137.2,746.4 L137.2,764.3 M138.5,838.0 L138.5,846.1 M187.7,745.1 L187.7,758.5 M180.0,841.9 L180.0,861.0 M170.5,856.6 L170.5,864.9 M179.5,857.0 L179.5,863.7 M164.2,848.6 L164.2,869.3 M187.8,767.3 L187.8,785.1 M146.9,775.6 L146.9,796.8 M141.3,774.3 L141.3,794.4 M166.1,804.3 L166.1,823.6 M188.5,786.4 L188.5,802.0 M128.8,818.6 L128.8,823.8 M146.9,790.5 L146.9,799.0 M166.8,863.9 L166.8,880.2 M145.2,851.5 L145.2,873.6 M146.9,829.8 L146.9,852.4 M185.3,805.1 L185.3,822.5 M154.0,763.4 L154.0,771.3 M173.4,730.7 L173.4,745.7 M145.1,843.5 L145.1,859.0 M173.2,761.2 L173.2,767.4 M132.1,826.4 L132.1,839.9 M136.9,769.5 L136.9,779.4 M134.7,794.0 L134.7,802.3 M175.8,766.6 L175.8,783.0 M133.3,746.1 L133.3,764.2 M151.8,787.3 L151.8,805.2 M141.1,847.1 L141.1,857.9 M172.6,743.2 L172.6,749.0 M168.4,787.3 L168.4,806.2 M133.7,847.3 L133.7,858.8 M184.0,754.1 L184.0,769.3 M184.1,853.1 L184.1,870.5 M187.6,767.0 L187.6,781.4 M131.0,746.9 L131.0,752.6 M155.8,850.5 L155.8,859.3 M179.1,812.9 L179.1,820.9 M165.6,830.7 L165.6,838.8 M145.1,866.2 L145.1,882.1 M182.1,755.9 L182.1,766.3 M133.2,850.7 L133.2,865.1 M137.4,814.1 L137.4,831.4 M149.1,788.5 L149.1,807.4 M145.0,764.3 L145.0,771.3 M157.8,731.7 L157.8,737.7 M131.8,849.5 L131.8,864.9 M134.8,852.5 L134.8,869.7 M143.7,744.1 L143.7,750.0 M144.9,771.0 L144.9,789.6 M145.7,792.2 L145.7,803.2 M148.8,856.8 L148.8,868.1 M141.6,750.0 L141.6,766.4" stroke="#fffcf0" stroke-width="0.6" opacity=".45" clip-path="url(#c11)"/>
<path d="M122.4,763.6 A35.4,10.6 0 0 1 193.3,763.6 M123.6,800.8 A34.3,26.1 0 0 1 192.1,800.8 M124.6,836.8 A33.2,37.3 0 0 1 191.1,836.8 M125.5,875.7 A32.4,60.9 0 0 1 190.2,875.7 M132.3,886.2 A25.5,32.6 0 0 1 183.4,886.2" fill="none" stroke="#ea5e52" stroke-width="1.25" clip-path="url(#c11)"/>
<path d="M126.7,858.3 A31.1,16.0 0 0 0 189.0,858.3" fill="none" stroke="#4a4a46" stroke-width="1.1"/>
<path d="M127.0,881.2 L188.7,881.2" stroke="#4a4640" stroke-width="1.6"/>
<path d="M125.0,737.5 A35.3,15.1 0 0 1 190.7,737.5 L186.7,1020.3 L129.0,1020.3 Z" fill="none" stroke="#5e5b58" stroke-width="1"/>
<clipPath id="c12"><path d="M221.7,738.6 A35.3,15.1 0 0 1 287.4,738.6 L285.7,859.0 A31.1,16.0 0 0 1 223.4,859.0 Z"/></clipPath>
<path d="M223.7,882.7 L285.4,882.7 L283.4,1020.3 L225.7,1020.3 Z" fill="url(#hg)"/>
<use href="#spots" filter="url(#bl)" transform="translate(223.7,882.7) scale(1.283,1.019)"/>
<path d="M221.7,738.6 A35.3,15.1 0 0 1 287.4,738.6 L285.4,882.7 L223.7,882.7 Z" fill="url(#vg)"/>
<path d="M232.7,756.8 L232.7,776.9 M257.1,769.3 L257.1,780.3 M257.2,775.6 L257.2,793.4 M231.3,780.5 L231.3,790.5 M270.3,844.7 L270.3,859.0 M278.8,740.6 L278.8,757.7 M239.1,756.6 L239.1,771.6 M228.7,735.0 L228.7,745.0 M260.4,819.9 L260.4,839.6 M243.7,819.8 L243.7,842.4 M282.6,759.2 L282.6,770.5 M235.7,812.0 L235.7,825.7 M259.3,771.2 L259.3,792.9 M230.2,865.8 L230.2,885.8 M270.2,816.6 L270.2,838.8 M252.9,860.9 L252.9,882.9 M227.4,803.6 L227.4,810.7 M267.7,739.4 L267.7,761.3 M236.0,789.5 L236.0,794.8 M257.9,835.9 L257.9,857.1 M231.6,770.1 L231.6,782.1 M238.1,762.4 L238.1,773.7 M264.1,757.3 L264.1,779.9 M226.3,771.1 L226.3,788.4 M237.2,804.6 L237.2,817.3 M242.5,787.4 L242.5,796.8 M261.3,775.8 L261.3,781.5 M270.9,759.5 L270.9,770.8 M225.6,812.4 L225.6,817.7 M255.8,853.1 L255.8,858.8 M236.4,838.5 L236.4,847.5 M280.6,809.5 L280.6,821.2 M244.1,756.5 L244.1,776.3 M243.7,753.9 L243.7,762.5 M249.8,771.6 L249.8,782.9 M270.8,795.4 L270.8,813.8 M241.5,847.9 L241.5,865.0 M260.2,798.4 L260.2,816.8 M234.6,769.2 L234.6,784.2 M227.6,810.1 L227.6,822.8 M230.0,768.9 L230.0,775.3 M229.1,829.4 L229.1,839.8 M224.4,747.2 L224.4,756.6 M280.3,861.1 L280.3,867.9 M265.6,856.3 L265.6,861.6 M242.0,756.4 L242.0,772.7 M263.6,790.1 L263.6,805.1 M245.2,847.3 L245.2,864.6 M266.1,787.7 L266.1,806.7 M270.5,805.1 L270.5,827.9 M225.0,766.0 L225.0,774.3 M226.0,821.1 L226.0,830.5 M230.8,756.4 L230.8,768.9 M263.7,839.4 L263.7,848.2 M271.2,834.4 L271.2,845.3 M257.7,761.1 L257.7,770.8 M224.6,795.8 L224.6,814.0 M235.5,803.6 L235.5,821.6 M251.3,860.0 L251.3,876.4 M283.0,790.3 L283.0,803.6 M279.5,747.4 L279.5,756.9 M278.5,784.0 L278.5,796.2 M236.5,802.8 L236.5,808.3 M271.9,834.3 L271.9,857.1 M263.2,865.1 L263.2,870.2 M240.3,860.3 L240.3,870.8 M268.0,803.5 L268.0,811.2 M244.6,754.0 L244.6,760.9 M225.2,770.5 L225.2,789.4 M263.3,753.6 L263.3,761.8 M284.9,758.1 L284.9,773.1 M229.7,815.3 L229.7,827.9 M284.3,817.7 L284.3,831.6 M253.2,753.1 L253.2,771.1 M240.8,795.3 L240.8,810.2 M284.5,793.6 L284.5,810.3 M250.0,827.9 L250.0,833.9 M271.8,773.3 L271.8,795.1 M275.2,800.7 L275.2,813.9 M243.1,778.7 L243.1,789.7 M262.3,863.0 L262.3,880.1 M257.3,810.6 L257.3,825.5 M267.4,805.9 L267.4,820.3 M272.9,816.3 L272.9,823.2 M228.7,789.7 L228.7,802.0" stroke="#fffcf0" stroke-width="0.6" opacity=".45" clip-path="url(#c12)"/>
<path d="M219.5,767.2 A35.1,18.8 0 0 1 289.6,767.2 M220.5,803.4 A34.1,30.5 0 0 1 288.6,803.4 M221.4,839.8 A33.2,37.5 0 0 1 287.7,839.8 M222.2,873.7 A32.4,48.1 0 0 1 286.9,873.7 M229.5,886.0 A25.0,31.6 0 0 1 279.6,886.0" fill="none" stroke="#ea5e52" stroke-width="1.25" clip-path="url(#c12)"/>
<path d="M223.4,859.0 A31.1,16.0 0 0 0 285.7,859.0" fill="none" stroke="#4a4a46" stroke-width="1.1"/>
<path d="M223.7,882.7 L285.4,882.7" stroke="#4a4640" stroke-width="1.6"/>
<path d="M221.7,738.6 A35.3,15.1 0 0 1 287.4,738.6 L283.4,1020.3 L225.7,1020.3 Z" fill="none" stroke="#5e5b58" stroke-width="1"/>
<clipPath id="c13"><path d="M318.2,737.5 A35.3,15.1 0 0 1 383.9,737.5 L382.2,858.3 A31.1,16.0 0 0 1 319.9,858.3 Z"/></clipPath>
<path d="M320.2,881.2 L381.9,881.2 L379.9,1020.3 L322.2,1020.3 Z" fill="url(#hg)"/>
<use href="#spots" filter="url(#bl)" transform="translate(320.2,881.2) scale(1.284,1.030)"/>
<path d="M318.2,737.5 A35.3,15.1 0 0 1 383.9,737.5 L381.9,881.2 L320.2,881.2 Z" fill="url(#vg)"/>
<path d="M353.9,746.9 L353.9,757.0 M346.8,732.3 L346.8,746.3 M378.9,788.4 L378.9,808.4 M379.4,732.8 L379.4,738.0 M347.1,860.8 L347.1,874.0 M369.4,821.5 L369.4,827.3 M348.9,817.7 L348.9,825.6 M328.4,821.0 L328.4,831.4 M362.8,767.8 L362.8,774.2 M343.3,837.3 L343.3,848.6 M353.9,835.5 L353.9,845.5 M373.7,735.6 L373.7,748.7 M335.1,753.3 L335.1,774.5 M330.4,836.3 L330.4,849.8 M378.5,850.7 L378.5,856.0 M378.9,806.2 L378.9,824.3 M326.7,828.0 L326.7,846.0 M379.7,811.2 L379.7,816.9 M360.6,820.7 L360.6,828.1 M370.1,735.0 L370.1,750.5 M358.6,859.0 L358.6,867.0 M333.7,822.2 L333.7,835.9 M376.9,751.8 L376.9,768.6 M333.4,857.0 L333.4,868.6 M345.9,799.6 L345.9,821.3 M372.0,815.2 L372.0,825.9 M358.9,850.1 L358.9,863.5 M329.4,837.6 L329.4,860.4 M338.5,737.2 L338.5,748.0 M332.1,818.2 L332.1,832.2 M372.4,756.8 L372.4,773.3 M356.3,747.6 L356.3,761.5 M333.3,733.0 L333.3,745.1 M343.5,730.2 L343.5,749.9 M372.3,750.4 L372.3,759.8 M325.3,849.5 L325.3,867.8 M368.8,790.8 L368.8,810.1 M358.0,766.7 L358.0,777.1 M354.1,789.5 L354.1,806.1 M347.5,732.4 L347.5,749.1 M358.1,837.7 L358.1,856.7 M367.9,787.1 L367.9,792.6 M354.8,858.9 L354.8,878.1 M378.0,804.3 L378.0,818.6 M338.4,845.1 L338.4,859.0 M379.1,836.5 L379.1,855.0 M348.5,769.6 L348.5,774.9 M366.1,831.2 L366.1,840.7 M375.0,759.7 L375.0,782.4 M354.7,782.2 L354.7,790.8 M377.6,809.4 L377.6,830.7 M328.4,851.7 L328.4,863.3 M334.5,862.8 L334.5,873.1 M361.4,809.4 L361.4,821.4 M354.9,778.9 L354.9,793.1 M377.9,819.5 L377.9,835.4 M328.9,844.0 L328.9,854.2 M377.1,750.7 L377.1,771.7 M378.7,834.7 L378.7,841.6 M347.3,804.9 L347.3,823.9 M364.9,732.2 L364.9,752.7 M375.2,817.2 L375.2,831.2 M345.3,840.1 L345.3,854.0 M326.7,852.4 L326.7,865.7 M373.5,823.6 L373.5,846.0 M368.5,839.1 L368.5,847.5 M364.5,749.3 L364.5,769.5 M342.6,740.8 L342.6,760.0 M380.7,785.3 L380.7,793.0 M349.0,796.7 L349.0,803.0 M341.2,764.5 L341.2,786.9 M370.9,752.4 L370.9,774.5 M364.3,761.4 L364.3,770.5 M321.6,791.1 L321.6,810.2 M341.9,814.2 L341.9,833.8 M344.0,819.9 L344.0,835.7 M355.8,846.1 L355.8,857.3 M353.3,823.0 L353.3,832.6 M381.0,764.1 L381.0,769.7 M354.8,802.0 L354.8,807.7 M340.0,804.4 L340.0,811.2 M370.1,783.8 L370.1,799.5 M343.6,844.4 L343.6,866.6 M346.5,860.0 L346.5,883.0 M351.1,809.9 L351.1,831.4" stroke="#fffcf0" stroke-width="0.6" opacity=".45" clip-path="url(#c13)"/>
<path d="M316.3,768.7 A34.8,26.4 0 0 1 385.8,768.7 M316.6,799.7 A34.4,22.2 0 0 1 385.5,799.7 M317.8,837.2 A33.3,35.7 0 0 1 384.3,837.2 M318.0,860.3 A33.1,32.0 0 0 1 384.1,860.3 M323.9,885.8 A27.2,33.8 0 0 1 378.2,885.8" fill="none" stroke="#ea5e52" stroke-width="1.25" clip-path="url(#c13)"/>
<path d="M319.9,858.3 A31.1,16.0 0 0 0 382.2,858.3" fill="none" stroke="#4a4a46" stroke-width="1.1"/>
<path d="M320.2,881.2 L381.9,881.2" stroke="#4a4640" stroke-width="1.6"/>
<path d="M318.2,737.5 A35.3,15.1 0 0 1 383.9,737.5 L379.9,1020.3 L322.2,1020.3 Z" fill="none" stroke="#5e5b58" stroke-width="1"/>
<clipPath id="c14"><path d="M414.6,734.9 A35.3,15.1 0 0 1 480.3,734.9 L478.6,856.7 A31.1,16.0 0 0 1 416.3,856.7 Z"/></clipPath>
<path d="M416.6,880.4 L478.3,880.4 L476.3,1020.3 L418.6,1020.3 Z" fill="url(#hg)"/>
<use href="#spots" filter="url(#bl)" transform="translate(416.6,880.4) scale(1.284,1.036)"/>
<path d="M414.6,734.9 A35.3,15.1 0 0 1 480.3,734.9 L478.3,880.4 L416.6,880.4 Z" fill="url(#vg)"/>
<path d="M452.5,754.1 L452.5,776.5 M473.6,791.5 L473.6,808.5 M429.8,757.8 L429.8,768.0 M459.3,756.6 L459.3,779.0 M420.9,753.9 L420.9,760.5 M464.1,777.7 L464.1,791.2 M436.7,814.9 L436.7,827.2 M429.5,786.5 L429.5,796.9 M423.4,840.5 L423.4,857.7 M457.6,848.6 L457.6,860.7 M440.0,785.5 L440.0,797.8 M457.9,728.3 L457.9,741.6 M449.6,774.8 L449.6,780.2 M460.1,728.7 L460.1,743.9 M426.1,732.1 L426.1,740.4 M420.7,748.1 L420.7,765.4 M461.5,777.2 L461.5,794.0 M445.9,795.8 L445.9,816.6 M435.8,846.8 L435.8,864.3 M458.8,728.2 L458.8,734.7 M418.6,774.9 L418.6,796.9 M470.6,842.5 L470.6,849.7 M460.1,833.7 L460.1,853.3 M465.5,746.7 L465.5,754.9 M465.5,828.8 L465.5,849.8 M444.1,849.5 L444.1,857.0 M475.7,848.8 L475.7,859.9 M420.8,802.7 L420.8,820.1 M438.2,735.3 L438.2,745.3 M467.5,739.8 L467.5,761.7 M432.0,755.5 L432.0,762.5 M477.1,851.1 L477.1,861.9 M422.5,817.1 L422.5,838.1 M417.3,814.3 L417.3,834.7 M444.9,805.6 L444.9,825.1 M431.3,764.9 L431.3,781.8 M450.7,800.9 L450.7,811.9 M474.4,767.0 L474.4,784.2 M471.8,782.4 L471.8,788.4 M430.2,736.5 L430.2,744.2 M424.0,774.4 L424.0,786.1 M444.2,818.7 L444.2,835.9 M459.0,777.4 L459.0,794.4 M450.5,744.9 L450.5,759.7 M436.2,820.2 L436.2,838.4 M431.5,787.1 L431.5,800.3 M434.9,733.0 L434.9,738.9 M477.9,829.0 L477.9,841.9 M457.7,764.3 L457.7,782.1 M475.3,833.6 L475.3,846.9 M477.3,854.0 L477.3,860.1 M442.0,789.5 L442.0,799.4 M454.6,747.1 L454.6,765.5 M469.5,735.9 L469.5,753.3 M433.0,815.0 L433.0,832.5 M476.9,837.0 L476.9,848.1 M461.6,747.6 L461.6,765.4 M442.3,763.8 L442.3,773.1 M430.0,836.7 L430.0,843.5 M430.9,753.8 L430.9,761.6 M461.6,808.0 L461.6,825.0 M472.1,789.0 L472.1,794.7 M428.3,798.3 L428.3,816.2 M473.3,797.6 L473.3,806.7 M453.2,855.7 L453.2,866.7 M474.0,851.5 L474.0,866.9 M446.3,745.1 L446.3,752.1 M419.1,811.3 L419.1,829.2 M477.9,810.1 L477.9,833.0 M441.5,745.8 L441.5,751.9 M434.4,800.3 L434.4,823.0 M434.9,759.7 L434.9,777.7 M440.6,804.1 L440.6,811.8 M469.2,853.6 L469.2,872.2 M474.3,773.1 L474.3,778.6 M435.4,850.7 L435.4,864.1 M429.0,748.2 L429.0,756.1 M443.7,854.5 L443.7,875.4 M463.4,831.2 L463.4,839.7 M464.6,758.2 L464.6,772.6 M418.7,849.9 L418.7,857.2 M453.2,818.3 L453.2,834.9 M458.7,778.1 L458.7,797.4 M474.5,812.1 L474.5,834.8 M469.0,735.0 L469.0,752.1" stroke="#fffcf0" stroke-width="0.6" opacity=".45" clip-path="url(#c14)"/>
<path d="M412.2,762.0 A35.3,14.8 0 0 1 482.7,762.0 M412.7,787.4 A34.8,17.6 0 0 1 482.2,787.4 M413.0,817.2 A34.4,14.9 0 0 1 481.9,817.2 M413.7,845.5 A33.7,22.1 0 0 1 481.2,845.5 M414.2,867.5 A33.3,23.9 0 0 1 480.7,867.5" fill="none" stroke="#ea5e52" stroke-width="1.25" clip-path="url(#c14)"/>
<path d="M416.3,856.7 A31.1,16.0 0 0 0 478.6,856.7" fill="none" stroke="#4a4a46" stroke-width="1.1"/>
<path d="M416.6,880.4 L478.3,880.4" stroke="#4a4640" stroke-width="1.6"/>
<path d="M414.6,734.9 A35.3,15.1 0 0 1 480.3,734.9 L476.3,1020.3 L418.6,1020.3 Z" fill="none" stroke="#5e5b58" stroke-width="1"/>
<clipPath id="c15"><path d="M510.6,736.0 A35.4,15.1 0 0 1 576.3,736.0 L574.6,856.7 A31.2,16.0 0 0 1 512.3,856.7 Z"/></clipPath>
<path d="M512.3,856.7 L574.6,856.7 L572.3,1020.3 L514.6,1020.3 Z" fill="url(#hgv)"/>
<use href="#vspots" filter="url(#bl)" transform="translate(512.5,872.7) scale(1.316,1.039)"/>
<path d="M510.6,736.0 A35.4,15.1 0 0 1 576.3,736.0 L574.6,856.7 A31.2,16.0 0 0 1 512.3,856.7 Z" fill="url(#vg)"/>
<path d="M520.7,839.6 L520.7,860.4 M536.4,766.2 L536.4,774.7 M517.6,757.8 L517.6,766.4 M565.3,754.5 L565.3,762.9 M569.9,853.4 L569.9,860.3 M532.5,863.2 L532.5,875.2 M551.3,822.7 L551.3,839.3 M516.0,827.0 L516.0,846.6 M540.2,775.6 L540.2,793.6 M573.6,856.9 L573.6,865.5 M559.4,795.2 L559.4,818.0 M572.5,794.4 L572.5,815.6 M567.2,743.7 L567.2,756.0 M571.0,760.5 L571.0,773.4 M551.4,776.5 L551.4,795.7 M523.9,809.9 L523.9,824.8 M514.3,836.3 L514.3,855.5 M565.2,754.5 L565.2,769.1 M521.9,828.4 L521.9,844.5 M567.6,747.1 L567.6,756.6 M517.0,854.7 L517.0,871.3 M521.3,829.1 L521.3,842.1 M537.4,835.0 L537.4,853.2 M542.5,768.3 L542.5,780.3 M536.6,753.8 L536.6,761.9 M547.1,860.8 L547.1,876.3 M537.5,732.6 L537.5,754.2 M532.2,768.6 L532.2,786.6 M567.0,743.6 L567.0,749.8 M525.9,864.0 L525.9,878.2 M518.9,817.1 L518.9,831.1 M519.1,737.6 L519.1,749.3 M572.3,786.7 L572.3,809.6 M535.8,772.6 L535.8,779.5 M550.0,750.5 L550.0,772.6 M551.1,731.4 L551.1,747.5 M541.8,818.3 L541.8,834.2 M519.5,793.7 L519.5,810.2 M517.8,847.8 L517.8,865.7 M524.4,738.8 L524.4,751.0 M551.4,814.1 L551.4,821.3 M549.3,803.5 L549.3,811.6 M543.6,814.3 L543.6,832.4 M519.5,738.5 L519.5,756.2 M573.5,804.7 L573.5,825.8 M536.0,750.3 L536.0,767.3 M529.7,845.5 L529.7,863.9 M515.7,770.9 L515.7,790.2 M516.0,759.0 L516.0,764.6 M555.4,860.0 L555.4,877.8 M567.6,755.4 L567.6,775.0 M573.8,840.3 L573.8,849.3 M530.9,856.6 L530.9,874.0 M537.9,764.1 L537.9,769.8 M560.5,809.8 L560.5,817.4 M520.5,863.4 L520.5,884.9 M513.0,751.4 L513.0,772.3 M540.3,845.4 L540.3,859.1 M536.0,858.8 L536.0,869.4 M570.6,834.1 L570.6,841.4 M570.0,858.3 L570.0,865.5 M545.7,795.3 L545.7,804.8 M558.0,854.4 L558.0,875.2 M562.5,784.9 L562.5,801.5 M565.5,772.6 L565.5,791.2 M539.4,851.8 L539.4,863.2 M546.3,789.9 L546.3,797.5 M542.7,828.7 L542.7,844.9 M570.5,836.5 L570.5,843.7 M543.4,789.5 L543.4,794.8 M570.8,815.8 L570.8,826.5 M551.1,818.5 L551.1,837.4 M567.4,806.5 L567.4,820.8 M547.8,759.4 L547.8,764.9 M558.3,827.0 L558.3,833.5 M534.4,760.1 L534.4,767.2 M555.6,783.1 L555.6,793.8 M558.1,837.7 L558.1,847.7 M547.4,764.4 L547.4,774.1 M529.0,768.9 L529.0,777.2 M514.4,851.1 L514.4,865.0 M529.8,796.6 L529.8,818.3 M518.8,845.9 L518.8,856.3 M513.9,861.2 L513.9,871.2 M569.9,740.4 L569.9,747.8" stroke="#fffcf0" stroke-width="0.6" opacity=".45" clip-path="url(#c15)"/>
<path d="M508.1,760.9 A35.3,13.7 0 0 1 578.8,760.9 M508.5,785.0 A34.9,14.9 0 0 1 578.4,785.0 M509.3,815.4 A34.1,23.8 0 0 1 577.6,815.4 M510.0,844.6 A33.4,30.4 0 0 1 576.9,844.6 M510.2,866.5 A33.2,25.9 0 0 1 576.7,866.5" fill="none" stroke="#e8463f" stroke-width="1.7" clip-path="url(#c15)"/>
<path d="M512.3,856.7 A31.2,16.0 0 0 0 574.6,856.7" fill="none" stroke="#4a4a46" stroke-width="1.1"/>
<path d="M510.6,736.0 A35.4,15.1 0 0 1 576.3,736.0 L572.3,1020.3 L514.6,1020.3 Z" fill="none" stroke="#5e5b58" stroke-width="1"/>
<clipPath id="c16"><path d="M607.3,735.2 A35.4,15.1 0 0 1 673.0,735.2 L671.3,856.0 A31.2,16.0 0 0 1 609.0,856.0 Z"/></clipPath>
<path d="M609.3,879.6 L671.0,879.6 L669.0,1020.3 L611.3,1020.3 Z" fill="url(#hg)"/>
<use href="#spots" filter="url(#bl)" transform="translate(609.3,879.6) scale(1.284,1.042)"/>
<path d="M607.3,735.2 A35.4,15.1 0 0 1 673.0,735.2 L671.0,879.6 L609.3,879.6 Z" fill="url(#vg)"/>
<path d="M664.6,754.5 L664.6,761.6 M616.2,830.5 L616.2,851.0 M670.5,820.2 L670.5,836.7 M651.7,793.5 L651.7,808.4 M618.2,733.4 L618.2,754.0 M658.8,859.2 L658.8,877.5 M645.5,750.2 L645.5,770.8 M641.9,846.0 L641.9,865.0 M657.8,813.8 L657.8,833.2 M635.8,825.0 L635.8,839.4 M646.9,860.4 L646.9,881.4 M653.4,809.4 L653.4,818.6 M661.1,783.7 L661.1,795.3 M662.5,792.8 L662.5,810.3 M620.7,830.4 L620.7,852.6 M647.2,843.0 L647.2,858.3 M653.7,788.3 L653.7,798.9 M666.9,816.3 L666.9,838.0 M629.8,762.8 L629.8,777.5 M645.9,735.6 L645.9,742.1 M646.5,731.2 L646.5,738.7 M667.9,858.0 L667.9,879.2 M627.2,860.2 L627.2,872.0 M659.2,768.0 L659.2,790.0 M619.8,736.2 L619.8,744.7 M646.6,737.1 L646.6,754.1 M659.9,837.7 L659.9,857.7 M651.4,797.0 L651.4,811.5 M625.8,801.4 L625.8,817.1 M640.1,849.6 L640.1,868.7 M628.2,849.5 L628.2,860.5 M640.8,742.0 L640.8,759.2 M613.0,748.8 L613.0,769.5 M666.1,799.1 L666.1,818.5 M639.6,732.4 L639.6,740.0 M647.0,836.1 L647.0,849.9 M667.1,852.7 L667.1,858.2 M614.9,818.8 L614.9,840.7 M645.2,831.4 L645.2,847.3 M649.4,738.5 L649.4,758.6 M660.1,844.2 L660.1,866.6 M654.4,744.3 L654.4,759.7 M610.0,828.6 L610.0,850.7 M623.5,743.7 L623.5,763.4 M665.3,760.7 L665.3,780.5 M654.7,739.2 L654.7,755.2 M669.4,777.5 L669.4,782.7 M610.0,814.4 L610.0,836.7 M621.1,817.7 L621.1,832.2 M638.2,816.2 L638.2,828.6 M630.0,789.5 L630.0,807.9 M646.8,766.9 L646.8,778.1 M614.4,842.5 L614.4,855.5 M617.9,855.4 L617.9,871.5 M660.1,783.2 L660.1,792.4 M623.4,814.9 L623.4,837.1 M627.4,794.0 L627.4,807.8 M646.5,838.9 L646.5,855.2 M609.8,820.9 L609.8,834.1 M666.0,839.8 L666.0,858.8 M670.4,845.0 L670.4,854.3 M668.2,809.4 L668.2,824.2 M629.7,840.5 L629.7,856.4 M645.6,801.6 L645.6,823.7 M643.8,816.7 L643.8,821.7 M610.3,777.3 L610.3,796.5 M657.6,797.1 L657.6,808.0 M646.9,855.8 L646.9,866.5 M651.6,737.3 L651.6,751.3 M623.1,863.0 L623.1,877.8 M656.2,851.4 L656.2,865.7 M644.3,805.8 L644.3,824.4 M662.8,804.6 L662.8,818.6 M623.9,833.3 L623.9,855.3 M655.2,758.1 L655.2,781.0 M643.3,847.7 L643.3,855.3 M644.1,746.3 L644.1,761.4 M616.6,836.7 L616.6,850.6 M661.6,770.4 L661.6,785.3 M620.2,755.7 L620.2,765.0 M644.6,735.2 L644.6,756.4 M645.5,808.7 L645.5,821.3 M668.1,816.1 L668.1,825.3 M633.5,744.1 L633.5,758.7 M610.7,764.2 L610.7,780.7" stroke="#fffcf0" stroke-width="0.6" opacity=".45" clip-path="url(#c16)"/>
<path d="M605.0,762.8 A35.2,17.2 0 0 1 675.3,762.8 M606.3,801.4 A33.8,36.2 0 0 1 674.0,801.4 M607.1,834.1 A33.0,41.0 0 0 1 673.2,834.1 M607.8,870.2 A32.4,46.5 0 0 1 672.5,870.2 M614.2,884.1 A26.0,24.4 0 0 1 666.1,884.1" fill="none" stroke="#ea5e52" stroke-width="1.25" clip-path="url(#c16)"/>
<path d="M609.0,856.0 A31.2,16.0 0 0 0 671.3,856.0" fill="none" stroke="#4a4a46" stroke-width="1.1"/>
<path d="M609.3,879.6 L671.0,879.6" stroke="#4a4640" stroke-width="1.6"/>
<path d="M607.3,735.2 A35.4,15.1 0 0 1 673.0,735.2 L669.0,1020.3 L611.3,1020.3 Z" fill="none" stroke="#5e5b58" stroke-width="1"/>
</svg>
<svg class="a" style="left:675px;top:228px" width="50" height="150" viewBox="0 0 370 1110"><path d="M50,50 C130,60 175,120 180,250 L180,380 C182,470 215,535 280,540 L280,565 C215,570 182,630 180,720 L180,850 C175,980 130,1045 50,1057 L45,1035 C110,1010 128,950 127,850 L127,720 C127,620 160,570 215,552 C160,535 127,485 127,380 L127,250 C128,150 110,95 45,72 Z" fill="#2b2624"/></svg>
<svg class="a" style="left:675px;top:725px" width="50" height="150" viewBox="0 0 370 1110"><path d="M50,50 C130,60 175,120 180,250 L180,380 C182,470 215,535 280,540 L280,565 C215,570 182,630 180,720 L180,850 C175,980 130,1045 50,1057 L45,1035 C110,1010 128,950 127,850 L127,720 C127,620 160,570 215,552 C160,535 127,485 127,380 L127,250 C128,150 110,95 45,72 Z" fill="#2b2624"/></svg>
<div class="a" style="left:-38.5px;top:188.9px;width:200px;text-align:center;font-size:20px;line-height:20px;color:#3a3a3a;">0.10 mm</div>
<div class="a" style="left:68.19999999999999px;top:188.9px;width:200px;text-align:center;font-size:20px;line-height:20px;color:#3a3a3a;">0.12 mm</div>
<div class="a" style="left:174.89999999999998px;top:188.9px;width:200px;text-align:center;font-size:20px;line-height:20px;color:#3a3a3a;">0.10 mm</div>
<div class="a" style="left:281.4px;top:188.9px;width:200px;text-align:center;font-size:20px;line-height:20px;color:#3a3a3a;">0.09 mm</div>
<div class="a" style="left:388.1px;top:188.9px;width:200px;text-align:center;font-size:20px;line-height:20px;color:#3a3a3a;">0.09 mm</div>
<div class="a" style="left:495.79999999999995px;top:188.9px;width:200px;text-align:center;font-size:20px;line-height:20px;color:#3a3a3a;">0.09 mm</div>
<div class="a" style="left:719px;top:190.9px;font-size:17.5px;line-height:17.5px;color:#333;">先端の厚さ</div>
<div class="a" style="left:16px;top:212px;width:806px;height:2px;background:#6b6b6b"></div>
<div class="a" style="left:-38.8px;top:680px;width:200px;text-align:center;font-size:20px;line-height:20px;color:#3a3a3a;">0.10 mm</div>
<div class="a" style="left:57.80000000000001px;top:680px;width:200px;text-align:center;font-size:20px;line-height:20px;color:#3a3a3a;">0.12 mm</div>
<div class="a" style="left:154.5px;top:680px;width:200px;text-align:center;font-size:20px;line-height:20px;color:#3a3a3a;">0.10 mm</div>
<div class="a" style="left:251.10000000000002px;top:680px;width:200px;text-align:center;font-size:20px;line-height:20px;color:#3a3a3a;">0.09 mm</div>
<div class="a" style="left:347.5px;top:680px;width:200px;text-align:center;font-size:20px;line-height:20px;color:#3a3a3a;">0.09 mm</div>
<div class="a" style="left:443.5px;top:680px;width:200px;text-align:center;font-size:20px;line-height:20px;color:#3a3a3a;">0.10 mm</div>
<div class="a" style="left:540.1px;top:680px;width:200px;text-align:center;font-size:20px;line-height:20px;color:#3a3a3a;">0.09 mm</div>
<div class="a" style="left:719px;top:682px;font-size:17.5px;line-height:17.5px;color:#333;">先端の厚さ</div>
<div class="a" style="left:16px;top:703.3px;width:806px;height:2px;background:#6b6b6b"></div>
<div class="a" style="left:720px;top:290px;font-size:16.5px;line-height:16.5px;color:#333;">カットの仕様</div>
<div class="a" style="left:720px;top:786.5px;font-size:16.5px;line-height:16.5px;color:#333;">カットの仕様</div>
<div class="a" style="left:-38.5px;top:533.8px;width:200px;text-align:center;font-size:19px;line-height:19px;color:#333;transform:scaleX(0.72);-webkit-text-stroke:0.35px #333">スペリアル</div>
<div class="a" style="left:68.2px;top:533.8px;width:200px;text-align:center;font-size:19px;line-height:19px;color:#62a6cc;transform:scaleX(0.72);-webkit-text-stroke:0.35px #62a6cc">エクセル</div>
<div class="a" style="left:174.9px;top:533.8px;width:200px;text-align:center;font-size:19px;line-height:19px;color:#d98080;transform:scaleX(0.72);-webkit-text-stroke:0.35px #d98080">プレミアム</div>
<div class="a" style="left:281.4px;top:533.8px;width:200px;text-align:center;font-size:19px;line-height:19px;color:#e0708a;transform:scaleX(0.72);-webkit-text-stroke:0.35px #e0708a">トラディション</div>
<div class="a" style="left:388.1px;top:534.5px;width:200px;text-align:center;font-size:18px;line-height:18px;color:#e08858;-webkit-text-stroke:0.3px #e08858">プリモ</div>
<div class="a" style="left:495.8px;top:533.8px;width:200px;text-align:center;font-size:19px;line-height:19px;color:#7566c0;transform:scaleX(0.72);-webkit-text-stroke:0.35px #7566c0">ヴィンテージ</div>
<div class="a" style="left:720px;top:536px;font-size:17px;line-height:17px;color:#333;">モデル</div>
<div class="a" style="left:16px;top:557px;width:806px;height:2px;background:#6b6b6b"></div>
<div class="a" style="left:717px;top:571.7px;font-size:18px;line-height:18px;color:#333;">ヒールの厚さ</div>
<div class="a" style="left:16px;top:594px;width:806px;height:2px;background:#6b6b6b"></div>
<div class="a" style="left:-38.8px;top:1036.8px;width:200px;text-align:center;font-size:19px;line-height:19px;color:#333;transform:scaleX(0.72);-webkit-text-stroke:0.35px #333">スペリアル</div>
<div class="a" style="left:57.8px;top:1036.8px;width:200px;text-align:center;font-size:19px;line-height:19px;color:#62a6cc;transform:scaleX(0.72);-webkit-text-stroke:0.35px #62a6cc">エクセル</div>
<div class="a" style="left:154.5px;top:1036.8px;width:200px;text-align:center;font-size:19px;line-height:19px;color:#d98080;transform:scaleX(0.72);-webkit-text-stroke:0.35px #d98080">プレミアム</div>
<div class="a" style="left:251.1px;top:1036.8px;width:200px;text-align:center;font-size:19px;line-height:19px;color:#e0708a;transform:scaleX(0.72);-webkit-text-stroke:0.35px #e0708a">トラディション</div>
<div class="a" style="left:347.5px;top:1037.5px;width:200px;text-align:center;font-size:18px;line-height:18px;color:#e08858;-webkit-text-stroke:0.3px #e08858">プリモ</div>
<div class="a" style="left:443.5px;top:1036.8px;width:200px;text-align:center;font-size:19px;line-height:19px;color:#7566c0;transform:scaleX(0.72);-webkit-text-stroke:0.35px #7566c0">ヴィンテージ</div>
<div class="a" style="left:540.1px;top:1037.5px;width:200px;text-align:center;font-size:18px;line-height:18px;color:#333;-webkit-text-stroke:0.3px #333">ジャズ</div>
<div class="a" style="left:720px;top:1039px;font-size:17px;line-height:17px;color:#333;">モデル</div>
<div class="a" style="left:16px;top:1060px;width:806px;height:2px;background:#6b6b6b"></div>
<div class="a" style="left:717px;top:1075.3px;font-size:18px;line-height:18px;color:#333;">ヒールの厚さ</div>
<div class="a" style="left:16px;top:1097px;width:806px;height:2px;background:#6b6b6b"></div>
<svg class="a" style="left:0;top:0" width="1185" height="1110" viewBox="0 0 1185 1110">
<path d="M22.5,588.2 L22.5,578.2 C22.5,569.2 36.5,564.2 61.5,564.2 C86.5,564.2 100.5,569.2 100.5,578.2 L100.5,588.2 Z" fill="none" stroke="#444" stroke-width="1.2"/>
<path d="M129.2,588.2 L129.2,578.2 C129.2,569.2 143.2,564.2 168.2,564.2 C193.2,564.2 207.2,569.2 207.2,578.2 L207.2,588.2 Z" fill="none" stroke="#444" stroke-width="1.2"/>
<path d="M235.9,588.2 L235.9,578.2 C235.9,569.2 249.9,564.2 274.9,564.2 C299.9,564.2 313.9,569.2 313.9,578.2 L313.9,588.2 Z" fill="none" stroke="#444" stroke-width="1.2"/>
<path d="M342.4,588.2 L342.4,578.2 C342.4,569.2 356.4,564.2 381.4,564.2 C406.4,564.2 420.4,569.2 420.4,578.2 L420.4,588.2 Z" fill="none" stroke="#444" stroke-width="1.2"/>
<path d="M449.1,588.2 L449.1,578.2 C449.1,569.2 463.1,564.2 488.1,564.2 C513.1,564.2 527.1,569.2 527.1,578.2 L527.1,588.2 Z" fill="none" stroke="#444" stroke-width="1.2"/>
<path d="M556.8,588.2 L556.8,578.2 C556.8,569.2 570.8,564.2 595.8,564.2 C620.8,564.2 634.8,569.2 634.8,578.2 L634.8,588.2 Z" fill="none" stroke="#444" stroke-width="1.2"/>
<path d="M22.2,1091.8 L22.2,1081.8 C22.2,1072.8 36.2,1067.8 61.2,1067.8 C86.2,1067.8 100.2,1072.8 100.2,1081.8 L100.2,1091.8 Z" fill="none" stroke="#444" stroke-width="1.2"/>
<path d="M118.8,1091.8 L118.8,1081.8 C118.8,1072.8 132.8,1067.8 157.8,1067.8 C182.8,1067.8 196.8,1072.8 196.8,1081.8 L196.8,1091.8 Z" fill="none" stroke="#444" stroke-width="1.2"/>
<path d="M215.5,1091.8 L215.5,1081.8 C215.5,1072.8 229.5,1067.8 254.5,1067.8 C279.5,1067.8 293.5,1072.8 293.5,1081.8 L293.5,1091.8 Z" fill="none" stroke="#444" stroke-width="1.2"/>
<path d="M312.1,1091.8 L312.1,1081.8 C312.1,1072.8 326.1,1067.8 351.1,1067.8 C376.1,1067.8 390.1,1072.8 390.1,1081.8 L390.1,1091.8 Z" fill="none" stroke="#444" stroke-width="1.2"/>
<path d="M408.5,1091.8 L408.5,1081.8 C408.5,1072.8 422.5,1067.8 447.5,1067.8 C472.5,1067.8 486.5,1072.8 486.5,1081.8 L486.5,1091.8 Z" fill="none" stroke="#444" stroke-width="1.2"/>
<path d="M504.5,1091.8 L504.5,1081.8 C504.5,1072.8 518.5,1067.8 543.5,1067.8 C568.5,1067.8 582.5,1072.8 582.5,1081.8 L582.5,1091.8 Z" fill="none" stroke="#444" stroke-width="1.2"/>
<path d="M601.1,1091.8 L601.1,1081.8 C601.1,1072.8 615.1,1067.8 640.1,1067.8 C665.1,1067.8 679.1,1072.8 679.1,1081.8 L679.1,1091.8 Z" fill="none" stroke="#444" stroke-width="1.2"/>
</svg>
<div class="a" style="left:-38.5px;top:570.0px;width:200px;text-align:center;font-size:18.2px;line-height:18.2px;color:#333;letter-spacing:-0.35px">2.90mm</div>
<div class="a" style="left:68.19999999999999px;top:570.0px;width:200px;text-align:center;font-size:18.2px;line-height:18.2px;color:#333;letter-spacing:-0.35px">3.15mm</div>
<div class="a" style="left:174.89999999999998px;top:570.0px;width:200px;text-align:center;font-size:18.2px;line-height:18.2px;color:#333;letter-spacing:-0.35px">3.20mm</div>
<div class="a" style="left:281.4px;top:570.0px;width:200px;text-align:center;font-size:18.2px;line-height:18.2px;color:#333;letter-spacing:-0.35px">3.00mm</div>
<div class="a" style="left:388.1px;top:570.0px;width:200px;text-align:center;font-size:18.2px;line-height:18.2px;color:#333;letter-spacing:-0.35px">2.80mm</div>
<div class="a" style="left:495.79999999999995px;top:570.0px;width:200px;text-align:center;font-size:18.2px;line-height:18.2px;color:#333;letter-spacing:-0.35px">2.90mm</div>
<div class="a" style="left:-38.8px;top:1073.6px;width:200px;text-align:center;font-size:18.2px;line-height:18.2px;color:#333;letter-spacing:-0.35px">3.30mm</div>
<div class="a" style="left:57.80000000000001px;top:1073.6px;width:200px;text-align:center;font-size:18.2px;line-height:18.2px;color:#333;letter-spacing:-0.35px">3.40mm</div>
<div class="a" style="left:154.5px;top:1073.6px;width:200px;text-align:center;font-size:18.2px;line-height:18.2px;color:#333;letter-spacing:-0.35px">3.40mm</div>
<div class="a" style="left:251.10000000000002px;top:1073.6px;width:200px;text-align:center;font-size:18.2px;line-height:18.2px;color:#333;letter-spacing:-0.35px">3.30mm</div>
<div class="a" style="left:347.5px;top:1073.6px;width:200px;text-align:center;font-size:18.2px;line-height:18.2px;color:#333;letter-spacing:-0.35px">3.25mm</div>
<div class="a" style="left:443.5px;top:1073.6px;width:200px;text-align:center;font-size:18.2px;line-height:18.2px;color:#333;letter-spacing:-0.35px">3.30mm</div>
<div class="a" style="left:540.1px;top:1073.6px;width:200px;text-align:center;font-size:18.2px;line-height:18.2px;color:#333;letter-spacing:-0.35px">3.30mm</div>
<div class="a" style="left:849.0px;top:144.0px;width:16.4px;height:16.4px;background:#2f7143;transform:rotate(45deg)"></div>
<div class="a" style="left:869.5px;top:141.8px;width:320px;height:23px;font-size:23px;line-height:23px;color:#3d7b4b;-webkit-text-stroke:0.3px #3d7b4b"><span style="position:absolute;left:0.00px;top:0">リ</span><span style="position:absolute;left:23.46px;top:0">ー</span><span style="position:absolute;left:46.92px;top:0">ド</span><span style="position:absolute;left:70.38px;top:0">は</span><span style="position:absolute;left:93.83px;top:0">先</span><span style="position:absolute;left:117.29px;top:0">端</span><span style="position:absolute;left:140.75px;top:0">か</span><span style="position:absolute;left:164.21px;top:0">ら</span><span style="position:absolute;left:187.67px;top:0">ヒ</span><span style="position:absolute;left:211.12px;top:0">ー</span><span style="position:absolute;left:234.58px;top:0">ル</span><span style="position:absolute;left:258.04px;top:0">ま</span><span style="position:absolute;left:281.50px;top:0">で</span></div>
<div class="a" style="left:869.5px;top:178.4px;width:320px;height:23px;font-size:23px;line-height:23px;color:#3d7b4b;-webkit-text-stroke:0.3px #3d7b4b"><span style="position:absolute;left:0.00px;top:0">の</span><span style="position:absolute;left:21.65px;top:0">厚</span><span style="position:absolute;left:43.31px;top:0">さ</span><span style="position:absolute;left:64.96px;top:0">や</span><span style="position:absolute;left:86.62px;top:0">コ</span><span style="position:absolute;left:108.27px;top:0">シ</span><span style="position:absolute;left:129.92px;top:0">の</span><span style="position:absolute;left:151.58px;top:0">位</span><span style="position:absolute;left:173.23px;top:0">置</span><span style="position:absolute;left:194.88px;top:0">、</span><span style="position:absolute;left:216.54px;top:0">カ</span><span style="position:absolute;left:238.19px;top:0">ッ</span><span style="position:absolute;left:259.85px;top:0">ト</span><span style="position:absolute;left:281.50px;top:0">の</span></div>
<div class="a" style="left:869.5px;top:215.0px;width:320px;height:23px;font-size:23px;line-height:23px;color:#3d7b4b;-webkit-text-stroke:0.3px #3d7b4b"><span style="position:absolute;left:0.00px;top:0">デ</span><span style="position:absolute;left:23.46px;top:0">ザ</span><span style="position:absolute;left:46.92px;top:0">イ</span><span style="position:absolute;left:70.38px;top:0">ン</span><span style="position:absolute;left:93.83px;top:0">に</span><span style="position:absolute;left:117.29px;top:0">よ</span><span style="position:absolute;left:140.75px;top:0">っ</span><span style="position:absolute;left:164.21px;top:0">て</span><span style="position:absolute;left:187.67px;top:0">性</span><span style="position:absolute;left:211.12px;top:0">格</span><span style="position:absolute;left:234.58px;top:0">に</span><span style="position:absolute;left:258.04px;top:0">大</span><span style="position:absolute;left:281.50px;top:0">き</span></div>
<div class="a" style="left:869.5px;top:251.6px;width:320px;height:23px;font-size:23px;line-height:23px;color:#3d7b4b;-webkit-text-stroke:0.3px #3d7b4b"><span style="position:absolute;left:0.00px;top:0">さ</span><span style="position:absolute;left:21.80px;top:0">な</span><span style="position:absolute;left:43.60px;top:0">差</span><span style="position:absolute;left:65.40px;top:0">が</span><span style="position:absolute;left:87.20px;top:0">生</span><span style="position:absolute;left:109.00px;top:0">ま</span><span style="position:absolute;left:130.80px;top:0">れ</span><span style="position:absolute;left:152.60px;top:0">ま</span><span style="position:absolute;left:174.40px;top:0">す</span><span style="position:absolute;left:196.20px;top:0">。</span></div>
<div class="a" style="left:869.5px;top:288.2px;width:320px;height:23px;font-size:23px;line-height:23px;color:#3d7b4b;-webkit-text-stroke:0.3px #3d7b4b"><span style="position:absolute;left:0.00px;top:0">先</span><span style="position:absolute;left:23.46px;top:0">端</span><span style="position:absolute;left:46.92px;top:0">の</span><span style="position:absolute;left:70.38px;top:0">厚</span><span style="position:absolute;left:93.83px;top:0">さ</span><span style="position:absolute;left:117.29px;top:0">と</span><span style="position:absolute;left:140.75px;top:0">ヒ</span><span style="position:absolute;left:164.21px;top:0">ー</span><span style="position:absolute;left:187.67px;top:0">ル</span><span style="position:absolute;left:211.12px;top:0">の</span><span style="position:absolute;left:234.58px;top:0">厚</span><span style="position:absolute;left:258.04px;top:0">さ</span><span style="position:absolute;left:281.50px;top:0">の</span></div>
<div class="a" style="left:869.5px;top:324.8px;width:320px;height:23px;font-size:23px;line-height:23px;color:#3d7b4b;-webkit-text-stroke:0.3px #3d7b4b"><span style="position:absolute;left:0.00px;top:0">バ</span><span style="position:absolute;left:23.46px;top:0">ラ</span><span style="position:absolute;left:46.92px;top:0">ン</span><span style="position:absolute;left:70.38px;top:0">ス</span><span style="position:absolute;left:93.83px;top:0">に</span><span style="position:absolute;left:117.29px;top:0">よ</span><span style="position:absolute;left:140.75px;top:0">っ</span><span style="position:absolute;left:164.21px;top:0">て</span><span style="position:absolute;left:187.67px;top:0">吹</span><span style="position:absolute;left:211.12px;top:0">奏</span><span style="position:absolute;left:234.58px;top:0">感</span><span style="position:absolute;left:258.04px;top:0">や</span><span style="position:absolute;left:281.50px;top:0">音</span></div>
<div class="a" style="left:869.5px;top:361.4px;width:320px;height:23px;font-size:23px;line-height:23px;color:#3d7b4b;-webkit-text-stroke:0.3px #3d7b4b"><span style="position:absolute;left:0.00px;top:0">色</span><span style="position:absolute;left:23.46px;top:0">に</span><span style="position:absolute;left:46.92px;top:0">違</span><span style="position:absolute;left:70.38px;top:0">い</span><span style="position:absolute;left:93.83px;top:0">が</span><span style="position:absolute;left:117.29px;top:0">で</span><span style="position:absolute;left:140.75px;top:0">き</span><span style="position:absolute;left:164.21px;top:0">ま</span><span style="position:absolute;left:187.67px;top:0">す</span><span style="position:absolute;left:211.12px;top:0">。</span><span style="position:absolute;left:234.58px;top:0">基</span><span style="position:absolute;left:258.04px;top:0">本</span><span style="position:absolute;left:281.50px;top:0">的</span></div>
<div class="a" style="left:869.5px;top:398.0px;width:320px;height:23px;font-size:23px;line-height:23px;color:#3d7b4b;-webkit-text-stroke:0.3px #3d7b4b"><span style="position:absolute;left:0.00px;top:0">に</span><span style="position:absolute;left:21.65px;top:0">薄</span><span style="position:absolute;left:43.31px;top:0">く</span><span style="position:absolute;left:64.96px;top:0">な</span><span style="position:absolute;left:86.62px;top:0">る</span><span style="position:absolute;left:108.27px;top:0">程</span><span style="position:absolute;left:129.92px;top:0">反</span><span style="position:absolute;left:151.58px;top:0">応</span><span style="position:absolute;left:173.23px;top:0">が</span><span style="position:absolute;left:194.88px;top:0">良</span><span style="position:absolute;left:216.54px;top:0">く</span><span style="position:absolute;left:238.19px;top:0">な</span><span style="position:absolute;left:259.85px;top:0">り</span><span style="position:absolute;left:281.50px;top:0">、</span></div>
<div class="a" style="left:869.5px;top:434.6px;width:320px;height:23px;font-size:23px;line-height:23px;color:#3d7b4b;-webkit-text-stroke:0.3px #3d7b4b"><span style="position:absolute;left:0.00px;top:0">厚</span><span style="position:absolute;left:21.80px;top:0">く</span><span style="position:absolute;left:43.60px;top:0">な</span><span style="position:absolute;left:65.40px;top:0">る</span><span style="position:absolute;left:87.20px;top:0">程</span><span style="position:absolute;left:109.00px;top:0">重</span><span style="position:absolute;left:130.80px;top:0">厚</span><span style="position:absolute;left:152.60px;top:0">に</span><span style="position:absolute;left:174.40px;top:0">な</span><span style="position:absolute;left:196.20px;top:0">り</span><span style="position:absolute;left:218.00px;top:0">ま</span><span style="position:absolute;left:239.80px;top:0">す</span><span style="position:absolute;left:261.60px;top:0">。</span></div>
<div class="a" style="left:849.0px;top:549.5px;width:16.4px;height:16.4px;background:#2f7143;transform:rotate(45deg)"></div>
<div class="a" style="left:869.5px;top:545.5px;width:320px;height:23px;font-size:23px;line-height:23px;color:#3d7b4b;-webkit-text-stroke:0.3px #3d7b4b"><span style="position:absolute;left:0.00px;top:0">カ</span><span style="position:absolute;left:23.46px;top:0">ッ</span><span style="position:absolute;left:46.92px;top:0">ト</span><span style="position:absolute;left:70.38px;top:0">の</span><span style="position:absolute;left:93.83px;top:0">仕</span><span style="position:absolute;left:117.29px;top:0">様</span><span style="position:absolute;left:140.75px;top:0">に</span><span style="position:absolute;left:164.21px;top:0">つ</span><span style="position:absolute;left:187.67px;top:0">い</span><span style="position:absolute;left:211.12px;top:0">て</span><span style="position:absolute;left:234.58px;top:0">は</span><span style="position:absolute;left:258.04px;top:0">、</span><span style="position:absolute;left:281.50px;top:0">厚</span></div>
<div class="a" style="left:869.5px;top:582.2px;width:320px;height:23px;font-size:23px;line-height:23px;color:#3d7b4b;-webkit-text-stroke:0.3px #3d7b4b"><span style="position:absolute;left:0.00px;top:0">さ</span><span style="position:absolute;left:23.46px;top:0">の</span><span style="position:absolute;left:46.92px;top:0">等</span><span style="position:absolute;left:70.38px;top:0">し</span><span style="position:absolute;left:93.83px;top:0">い</span><span style="position:absolute;left:117.29px;top:0">部</span><span style="position:absolute;left:140.75px;top:0">分</span><span style="position:absolute;left:164.21px;top:0">を</span><span style="position:absolute;left:187.67px;top:0">線</span><span style="position:absolute;left:211.12px;top:0">で</span><span style="position:absolute;left:234.58px;top:0">表</span><span style="position:absolute;left:258.04px;top:0">し</span><span style="position:absolute;left:281.50px;top:0">て</span></div>
<div class="a" style="left:869.5px;top:619.0px;width:320px;height:23px;font-size:23px;line-height:23px;color:#3d7b4b;-webkit-text-stroke:0.3px #3d7b4b"><span style="position:absolute;left:0.00px;top:0">い</span><span style="position:absolute;left:23.46px;top:0">ま</span><span style="position:absolute;left:46.92px;top:0">す</span><span style="position:absolute;left:70.38px;top:0">。</span><span style="position:absolute;left:93.83px;top:0">曲</span><span style="position:absolute;left:117.29px;top:0">線</span><span style="position:absolute;left:140.75px;top:0">の</span><span style="position:absolute;left:164.21px;top:0">角</span><span style="position:absolute;left:187.67px;top:0">度</span><span style="position:absolute;left:211.12px;top:0">が</span><span style="position:absolute;left:234.58px;top:0">小</span><span style="position:absolute;left:258.04px;top:0">さ</span><span style="position:absolute;left:281.50px;top:0">い</span></div>
<div class="a" style="left:869.5px;top:655.8px;width:320px;height:23px;font-size:23px;line-height:23px;color:#3d7b4b;-webkit-text-stroke:0.3px #3d7b4b"><span style="position:absolute;left:0.00px;top:0">程</span><span style="position:absolute;left:21.65px;top:0">、</span><span style="position:absolute;left:43.31px;top:0">リ</span><span style="position:absolute;left:64.96px;top:0">ー</span><span style="position:absolute;left:86.62px;top:0">ド</span><span style="position:absolute;left:108.27px;top:0">の</span><span style="position:absolute;left:129.92px;top:0">背</span><span style="position:absolute;left:151.58px;top:0">と</span><span style="position:absolute;left:173.23px;top:0">中</span><span style="position:absolute;left:194.88px;top:0">心</span><span style="position:absolute;left:216.54px;top:0">部</span><span style="position:absolute;left:238.19px;top:0">が</span><span style="position:absolute;left:259.85px;top:0">厚</span><span style="position:absolute;left:281.50px;top:0">く</span></div>
<div class="a" style="left:869.5px;top:692.5px;width:320px;height:23px;font-size:23px;line-height:23px;color:#3d7b4b;-webkit-text-stroke:0.3px #3d7b4b"><span style="position:absolute;left:0.00px;top:0">斜</span><span style="position:absolute;left:21.80px;top:0">面</span><span style="position:absolute;left:43.60px;top:0">が</span><span style="position:absolute;left:65.40px;top:0">薄</span><span style="position:absolute;left:87.20px;top:0">く</span><span style="position:absolute;left:109.00px;top:0">な</span><span style="position:absolute;left:130.80px;top:0">り</span><span style="position:absolute;left:152.60px;top:0">ま</span><span style="position:absolute;left:174.40px;top:0">す</span><span style="position:absolute;left:196.20px;top:0">。</span></div>
<div class="a" style="left:869.5px;top:729.2px;width:320px;height:23px;font-size:23px;line-height:23px;color:#3d7b4b;-webkit-text-stroke:0.3px #3d7b4b"><span style="position:absolute;left:0.00px;top:0">マ</span><span style="position:absolute;left:23.46px;top:0">ー</span><span style="position:absolute;left:46.92px;top:0">カ</span><span style="position:absolute;left:70.38px;top:0">社</span><span style="position:absolute;left:93.83px;top:0">で</span><span style="position:absolute;left:117.29px;top:0">は</span><span style="position:absolute;left:140.75px;top:0">最</span><span style="position:absolute;left:164.21px;top:0">高</span><span style="position:absolute;left:187.67px;top:0">品</span><span style="position:absolute;left:211.12px;top:0">質</span><span style="position:absolute;left:234.58px;top:0">の</span><span style="position:absolute;left:258.04px;top:0">ケ</span><span style="position:absolute;left:281.50px;top:0">ー</span></div>
<div class="a" style="left:869.5px;top:766.0px;width:320px;height:23px;font-size:23px;line-height:23px;color:#3d7b4b;-webkit-text-stroke:0.3px #3d7b4b"><span style="position:absolute;left:0.00px;top:0">ン</span><span style="position:absolute;left:25.59px;top:0">材</span><span style="position:absolute;left:51.18px;top:0">か</span><span style="position:absolute;left:76.77px;top:0">ら</span><span style="position:absolute;left:102.36px;top:0">様</span><span style="position:absolute;left:127.95px;top:0">々</span><span style="position:absolute;left:153.55px;top:0">な</span><span style="position:absolute;left:179.14px;top:0">加</span><span style="position:absolute;left:204.73px;top:0">工</span><span style="position:absolute;left:230.32px;top:0">工</span><span style="position:absolute;left:255.91px;top:0">程</span><span style="position:absolute;left:281.50px;top:0">を</span></div>
<div class="a" style="left:869.5px;top:802.8px;width:320px;height:23px;font-size:23px;line-height:23px;color:#3d7b4b;-webkit-text-stroke:0.3px #3d7b4b"><span style="position:absolute;left:0.00px;top:0">経</span><span style="position:absolute;left:23.46px;top:0">て</span><span style="position:absolute;left:46.92px;top:0">、</span><span style="position:absolute;left:70.38px;top:0">彩</span><span style="position:absolute;left:93.83px;top:0">り</span><span style="position:absolute;left:117.29px;top:0">豊</span><span style="position:absolute;left:140.75px;top:0">か</span><span style="position:absolute;left:164.21px;top:0">な</span><span style="position:absolute;left:187.67px;top:0">各</span><span style="position:absolute;left:211.12px;top:0">モ</span><span style="position:absolute;left:234.58px;top:0">デ</span><span style="position:absolute;left:258.04px;top:0">ル</span><span style="position:absolute;left:281.50px;top:0">を</span></div>
<div class="a" style="left:869.5px;top:839.5px;width:320px;height:23px;font-size:23px;line-height:23px;color:#3d7b4b;-webkit-text-stroke:0.3px #3d7b4b"><span style="position:absolute;left:0.00px;top:0">製</span><span style="position:absolute;left:21.80px;top:0">作</span><span style="position:absolute;left:43.60px;top:0">し</span><span style="position:absolute;left:65.40px;top:0">て</span><span style="position:absolute;left:87.20px;top:0">い</span><span style="position:absolute;left:109.00px;top:0">ま</span><span style="position:absolute;left:130.80px;top:0">す</span><span style="position:absolute;left:152.60px;top:0">。</span></div>
<div class="a" style="left:869.5px;top:876.2px;width:320px;height:23px;font-size:23px;line-height:23px;color:#3d7b4b;-webkit-text-stroke:0.3px #3d7b4b"><span style="position:absolute;left:0.00px;top:0">演</span><span style="position:absolute;left:23.46px;top:0">奏</span><span style="position:absolute;left:46.92px;top:0">ス</span><span style="position:absolute;left:70.38px;top:0">タ</span><span style="position:absolute;left:93.83px;top:0">イ</span><span style="position:absolute;left:117.29px;top:0">ル</span><span style="position:absolute;left:140.75px;top:0">に</span><span style="position:absolute;left:164.21px;top:0">合</span><span style="position:absolute;left:187.67px;top:0">わ</span><span style="position:absolute;left:211.12px;top:0">せ</span><span style="position:absolute;left:234.58px;top:0">て</span><span style="position:absolute;left:258.04px;top:0">お</span><span style="position:absolute;left:281.50px;top:0">好</span></div>
<div class="a" style="left:869.5px;top:913.0px;width:320px;height:23px;font-size:23px;line-height:23px;color:#3d7b4b;-webkit-text-stroke:0.3px #3d7b4b"><span style="position:absolute;left:0.00px;top:0">み</span><span style="position:absolute;left:21.80px;top:0">の</span><span style="position:absolute;left:43.60px;top:0">リ</span><span style="position:absolute;left:65.40px;top:0">ー</span><span style="position:absolute;left:87.20px;top:0">ド</span><span style="position:absolute;left:109.00px;top:0">を</span><span style="position:absolute;left:130.80px;top:0">お</span><span style="position:absolute;left:152.60px;top:0">選</span><span style="position:absolute;left:174.40px;top:0">び</span><span style="position:absolute;left:196.20px;top:0">下</span><span style="position:absolute;left:218.00px;top:0">さ</span><span style="position:absolute;left:239.80px;top:0">い</span><span style="position:absolute;left:261.60px;top:0">。</span></div>
</body></html>
